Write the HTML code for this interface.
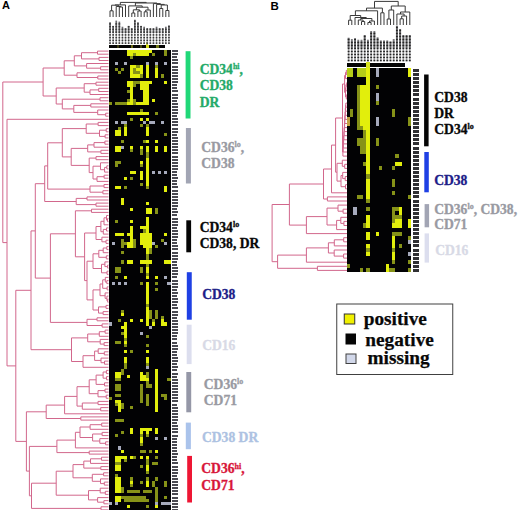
<!DOCTYPE html>
<html><head><meta charset="utf-8"><style>
html,body{margin:0;padding:0;background:#fff;width:520px;height:510px;overflow:hidden}
svg{display:block}
text{font-family:"Liberation Serif",serif;font-weight:bold}
text.pl{font-family:"Liberation Sans",sans-serif}
</style></head><body>
<svg width="520" height="510" viewBox="0 0 520 510" shape-rendering="crispEdges">
<rect width="520" height="510" fill="#fff"/>
<g fill="none" shape-rendering="auto">
<path d="M97.5 51.1L108.5 51.1M97.5 54.2L108.5 54.2M97.5 51.1L97.5 54.2M81.5 52.7L97.5 52.7M99.0 57.4L108.5 57.4M99.0 60.5L108.5 60.5M99.0 57.4L99.0 60.5M81.5 58.9L99.0 58.9M81.5 52.7L81.5 58.9M74.3 55.8L81.5 55.8M86.6 63.5L108.5 63.5M100.6 66.7L108.5 66.7M100.6 69.8L108.5 69.8M100.6 66.7L100.6 69.8M86.6 68.2L100.6 68.2M86.6 63.5L86.6 68.2M74.3 65.9L86.6 65.9M74.3 55.8L74.3 65.9M64.2 60.8L74.3 60.8M77.0 72.8L108.5 72.8M97.8 76.0L108.5 76.0M97.8 79.0L108.5 79.0M97.8 76.0L97.8 79.0M77.0 77.5L97.8 77.5M77.0 72.8L77.0 77.5M64.2 75.2L77.0 75.2M64.2 60.8L64.2 75.2M43.1 68.0L64.2 68.0M96.0 82.2L108.5 82.2M96.0 85.2L108.5 85.2M96.0 82.2L96.0 85.2M84.2 83.7L96.0 83.7M98.7 88.3L108.5 88.3M98.7 91.5L108.5 91.5M98.7 88.3L98.7 91.5M90.0 89.9L98.7 89.9M90.0 94.5L108.5 94.5M90.0 89.9L90.0 94.5M84.2 92.2L90.0 92.2M84.2 83.7L84.2 92.2M56.2 88.0L84.2 88.0M100.0 97.7L108.5 97.7M100.0 100.8L108.5 100.8M100.0 97.7L100.0 100.8M62.3 99.2L100.0 99.2M90.8 103.8L108.5 103.8M90.8 107.0L108.5 107.0M90.8 103.8L90.8 107.0M73.8 105.4L90.8 105.4M97.7 110.0L108.5 110.0M105.7 113.2L108.5 113.2M105.7 116.2L108.5 116.2M105.7 113.2L105.7 116.2M97.7 114.7L105.7 114.7M97.7 110.0L97.7 114.7M73.8 112.4L97.7 112.4M73.8 105.4L73.8 112.4M62.3 108.9L73.8 108.9M62.3 99.2L62.3 108.9M56.2 104.0L62.3 104.0M56.2 88.0L56.2 104.0M43.1 96.0L56.2 96.0M43.1 68.0L43.1 96.0M2.8 82.0L43.1 82.0M7.0 119.3L108.5 119.3M98.1 122.4L108.5 122.4M98.1 125.6L108.5 125.6M98.1 122.4L98.1 125.6M86.2 124.0L98.1 124.0M106.2 128.7L108.5 128.7M106.2 131.8L108.5 131.8M106.2 128.7L106.2 131.8M99.5 130.2L106.2 130.2M105.1 134.8L108.5 134.8M105.1 137.9L108.5 137.9M105.1 134.8L105.1 137.9M99.5 136.4L105.1 136.4M99.5 130.2L99.5 136.4M86.2 133.3L99.5 133.3M86.2 124.0L86.2 133.3M62.3 128.6L86.2 128.6M104.9 141.1L108.5 141.1M104.9 144.2L108.5 144.2M104.9 141.1L104.9 144.2M94.0 142.6L104.9 142.6M94.0 147.2L108.5 147.2M94.0 142.6L94.0 147.2M87.7 144.9L94.0 144.9M100.9 150.3L108.5 150.3M100.9 153.4L108.5 153.4M100.9 150.3L100.9 153.4M87.7 151.9L100.9 151.9M87.7 144.9L87.7 151.9M71.2 148.4L87.7 148.4M96.0 156.6L108.5 156.6M96.0 159.7L108.5 159.7M96.0 156.6L96.0 159.7M89.2 158.1L96.0 158.1M100.5 162.8L108.5 162.8M106.8 165.8L108.5 165.8M106.8 168.9L108.5 168.9M106.8 165.8L106.8 168.9M104.6 167.4L106.8 167.4M104.6 172.1L108.5 172.1M104.6 167.4L104.6 172.1M100.5 169.7L104.6 169.7M100.5 162.8L100.5 169.7M93.0 166.2L100.5 166.2M104.1 175.2L108.5 175.2M104.1 178.2L108.5 178.2M104.1 175.2L104.1 178.2M97.0 176.7L104.1 176.7M97.0 181.4L108.5 181.4M97.0 176.7L97.0 181.4M93.0 179.0L97.0 179.0M93.0 166.2L93.0 179.0M89.2 172.6L93.0 172.6M89.2 158.1L89.2 172.6M71.2 165.4L89.2 165.4M71.2 148.4L71.2 165.4M62.3 156.9L71.2 156.9M62.3 128.6L62.3 156.9M47.7 142.8L62.3 142.8M104.0 184.5L108.5 184.5M104.0 187.6L108.5 187.6M104.0 184.5L104.0 187.6M90.0 186.0L104.0 186.0M102.9 190.7L108.5 190.7M102.9 193.8L108.5 193.8M102.9 190.7L102.9 193.8M90.0 192.2L102.9 192.2M90.0 186.0L90.0 192.2M47.7 189.1L90.0 189.1M47.7 142.8L47.7 189.1M44.7 165.9L47.7 165.9M87.0 196.9L108.5 196.9M87.0 200.0L108.5 200.0M87.0 196.9L87.0 200.0M76.2 198.4L87.0 198.4M96.0 203.1L108.5 203.1M96.0 206.2L108.5 206.2M96.0 203.1L96.0 206.2M76.2 204.6L96.0 204.6M76.2 198.4L76.2 204.6M44.7 201.5L76.2 201.5M44.7 165.9L44.7 201.5M35.3 183.7L44.7 183.7M91.5 209.2L108.5 209.2M91.5 212.4L108.5 212.4M91.5 209.2L91.5 212.4M75.4 210.8L91.5 210.8M106.5 215.5L108.5 215.5M107.5 218.6L108.5 218.6M107.5 221.7L108.5 221.7M107.5 218.6L107.5 221.7M106.5 220.1L107.5 220.1M106.5 215.5L106.5 220.1M104.0 217.8L106.5 217.8M104.0 224.8L108.5 224.8M104.0 217.8L104.0 224.8M100.9 221.3L104.0 221.3M106.5 227.9L108.5 227.9M106.5 231.0L108.5 231.0M106.5 227.9L106.5 231.0M103.3 229.4L106.5 229.4M103.3 234.1L108.5 234.1M103.3 229.4L103.3 234.1M100.9 231.7L103.3 231.7M100.9 221.3L100.9 231.7M96.0 226.5L100.9 226.5M101.9 237.2L108.5 237.2M106.0 240.2L108.5 240.2M106.0 243.4L108.5 243.4M106.0 240.2L106.0 243.4M101.9 241.8L106.0 241.8M101.9 237.2L101.9 241.8M96.0 239.5L101.9 239.5M96.0 226.5L96.0 239.5M84.6 233.0L96.0 233.0M106.8 246.5L108.5 246.5M106.8 249.6L108.5 249.6M106.8 246.5L106.8 249.6M103.2 248.0L106.8 248.0M103.2 252.7L108.5 252.7M103.2 248.0L103.2 252.7M98.8 250.3L103.2 250.3M106.3 255.8L108.5 255.8M106.3 258.9L108.5 258.9M106.3 255.8L106.3 258.9M98.8 257.3L106.3 257.3M98.8 250.3L98.8 257.3M93.0 253.8L98.8 253.8M104.9 261.9L108.5 261.9M107.6 265.1L108.5 265.1M107.6 268.1L108.5 268.1M107.6 265.1L107.6 268.1M104.9 266.6L107.6 266.6M104.9 261.9L104.9 266.6M101.5 264.3L104.9 264.3M107.0 271.2L108.5 271.2M107.0 274.4L108.5 274.4M107.0 271.2L107.0 274.4M101.5 272.8L107.0 272.8M101.5 264.3L101.5 272.8M93.0 268.5L101.5 268.5M93.0 253.8L93.0 268.5M87.0 261.2L93.0 261.2M105.3 277.4L108.5 277.4M106.8 280.6L108.5 280.6M106.8 283.6L108.5 283.6M106.8 280.6L106.8 283.6M105.3 282.1L106.8 282.1M105.3 277.4L105.3 282.1M102.7 279.8L105.3 279.8M107.1 286.8L108.5 286.8M107.1 289.9L108.5 289.9M107.1 286.8L107.1 289.9M102.7 288.3L107.1 288.3M102.7 279.8L102.7 288.3M100.0 284.0L102.7 284.0M105.1 292.9L108.5 292.9M106.9 296.1L108.5 296.1M107.7 299.1L108.5 299.1M107.7 302.2L108.5 302.2M107.7 299.1L107.7 302.2M106.9 300.7L107.7 300.7M106.9 296.1L106.9 300.7M105.1 298.4L106.9 298.4M105.1 292.9L105.1 298.4M100.0 295.7L105.1 295.7M100.0 284.0L100.0 295.7M93.0 289.9L100.0 289.9M106.0 305.4L108.5 305.4M106.0 308.4L108.5 308.4M106.0 305.4L106.0 308.4M98.5 306.9L106.0 306.9M103.1 311.6L108.5 311.6M103.1 314.6L108.5 314.6M103.1 311.6L103.1 314.6M98.5 313.1L103.1 313.1M98.5 306.9L98.5 313.1M93.0 310.0L98.5 310.0M93.0 289.9L93.0 310.0M87.0 299.9L93.0 299.9M87.0 261.2L87.0 299.9M84.6 280.6L87.0 280.6M84.6 233.0L84.6 280.6M75.4 256.8L84.6 256.8M75.4 210.8L75.4 256.8M50.4 233.8L75.4 233.8M97.0 317.8L108.5 317.8M97.0 320.8L108.5 320.8M97.0 317.8L97.0 320.8M87.0 319.3L97.0 319.3M102.1 323.9L108.5 323.9M102.1 327.1L108.5 327.1M102.1 323.9L102.1 327.1M87.0 325.5L102.1 325.5M87.0 319.3L87.0 325.5M50.4 322.4L87.0 322.4M50.4 233.8L50.4 322.4M35.3 278.1L50.4 278.1M35.3 183.7L35.3 278.1M31.0 230.9L35.3 230.9M105.1 330.1L108.5 330.1M105.1 333.2L108.5 333.2M105.1 330.1L105.1 333.2M99.3 331.7L105.1 331.7M99.3 336.3L108.5 336.3M99.3 331.7L99.3 336.3M87.7 334.0L99.3 334.0M100.2 339.4L108.5 339.4M104.1 342.6L108.5 342.6M104.1 345.6L108.5 345.6M104.1 342.6L104.1 345.6M100.2 344.1L104.1 344.1M100.2 339.4L100.2 344.1M87.7 341.8L100.2 341.8M87.7 334.0L87.7 341.8M71.5 337.9L87.7 337.9M98.2 348.8L108.5 348.8M104.3 351.8L108.5 351.8M104.3 354.9L108.5 354.9M104.3 351.8L104.3 354.9M98.2 353.4L104.3 353.4M98.2 348.8L98.2 353.4M94.6 351.1L98.2 351.1M101.0 358.1L108.5 358.1M104.5 361.1L108.5 361.1M104.5 364.2L108.5 364.2M104.5 361.1L104.5 364.2M101.0 362.7L104.5 362.7M101.0 358.1L101.0 362.7M94.6 360.4L101.0 360.4M94.6 351.1L94.6 360.4M83.0 355.7L94.6 355.7M83.0 367.3L108.5 367.3M83.0 355.7L83.0 367.3M71.5 361.5L83.0 361.5M71.5 337.9L71.5 361.5M31.0 349.7L71.5 349.7M31.0 230.9L31.0 349.7M15.8 290.3L31.0 290.3M106.4 370.4L108.5 370.4M106.4 373.6L108.5 373.6M106.4 370.4L106.4 373.6M103.1 372.0L106.4 372.0M106.5 376.6L108.5 376.6M106.5 379.8L108.5 379.8M106.5 376.6L106.5 379.8M103.1 378.2L106.5 378.2M103.1 372.0L103.1 378.2M96.1 375.1L103.1 375.1M104.5 382.8L108.5 382.8M104.5 385.9L108.5 385.9M104.5 382.8L104.5 385.9M96.1 384.4L104.5 384.4M96.1 375.1L96.1 384.4M89.2 379.8L96.1 379.8M105.0 389.1L108.5 389.1M105.0 392.1L108.5 392.1M105.0 389.1L105.0 392.1M98.0 390.6L105.0 390.6M106.2 395.2L108.5 395.2M106.2 398.3L108.5 398.3M106.2 395.2L106.2 398.3M98.0 396.8L106.2 396.8M98.0 390.6L98.0 396.8M89.2 393.7L98.0 393.7M89.2 379.8L89.2 393.7M77.0 386.7L89.2 386.7M98.0 401.4L108.5 401.4M98.0 404.6L108.5 404.6M98.0 401.4L98.0 404.6M82.3 403.0L98.0 403.0M100.7 407.6L108.5 407.6M100.7 410.8L108.5 410.8M100.7 407.6L100.7 410.8M82.3 409.2L100.7 409.2M82.3 403.0L82.3 409.2M77.0 406.1L82.3 406.1M77.0 386.7L77.0 406.1M64.6 396.4L77.0 396.4M64.6 413.8L108.5 413.8M64.6 396.4L64.6 413.8M46.2 405.1L64.6 405.1M80.8 416.9L108.5 416.9M80.8 420.1L108.5 420.1M80.8 416.9L80.8 420.1M46.2 418.5L80.8 418.5M46.2 405.1L46.2 418.5M26.4 411.8L46.2 411.8M101.7 423.1L108.5 423.1M101.7 426.2L108.5 426.2M101.7 423.1L101.7 426.2M90.1 424.7L101.7 424.7M90.1 429.3L108.5 429.3M90.1 424.7L90.1 429.3M80.0 427.0L90.1 427.0M102.1 432.4L108.5 432.4M102.1 435.6L108.5 435.6M102.1 432.4L102.1 435.6M92.6 434.0L102.1 434.0M99.8 438.6L108.5 438.6M105.6 441.8L108.5 441.8M105.6 444.8L108.5 444.8M105.6 441.8L105.6 444.8M99.8 443.3L105.6 443.3M99.8 438.6L99.8 443.3M92.6 441.0L99.8 441.0M92.6 434.0L92.6 441.0M80.0 437.5L92.6 437.5M80.0 427.0L80.0 437.5M75.4 432.3L80.0 432.3M75.4 447.9L108.5 447.9M75.4 432.3L75.4 447.9M56.9 440.1L75.4 440.1M89.2 451.1L108.5 451.1M89.2 454.1L108.5 454.1M89.2 451.1L89.2 454.1M56.9 452.6L89.2 452.6M56.9 440.1L56.9 452.6M29.4 446.4L56.9 446.4M101.5 457.2L108.5 457.2M101.5 460.3L108.5 460.3M101.5 457.2L101.5 460.3M90.5 458.8L101.5 458.8M90.5 463.4L108.5 463.4M90.5 458.8L90.5 463.4M83.8 461.1L90.5 461.1M100.8 466.6L108.5 466.6M100.8 469.6L108.5 469.6M100.8 466.6L100.8 469.6M83.8 468.1L100.8 468.1M83.8 461.1L83.8 468.1M73.0 464.6L83.8 464.6M103.6 472.8L108.5 472.8M103.6 475.8L108.5 475.8M103.6 472.8L103.6 475.8M92.3 474.3L103.6 474.3M100.5 478.9L108.5 478.9M104.3 482.1L108.5 482.1M104.3 485.1L108.5 485.1M104.3 482.1L104.3 485.1M100.5 483.6L104.3 483.6M100.5 478.9L100.5 483.6M92.3 481.3L100.5 481.3M92.3 474.3L92.3 481.3M73.0 477.8L92.3 477.8M73.0 464.6L73.0 477.8M56.2 471.2L73.0 471.2M100.2 488.2L108.5 488.2M105.3 491.3L108.5 491.3M105.3 494.4L108.5 494.4M105.3 491.3L105.3 494.4M100.2 492.9L105.3 492.9M100.2 488.2L100.2 492.9M88.5 490.6L100.2 490.6M97.6 497.6L108.5 497.6M103.9 500.6L108.5 500.6M103.9 503.8L108.5 503.8M103.9 500.6L103.9 503.8M97.6 502.2L103.9 502.2M97.6 497.6L97.6 502.2M88.5 499.9L97.6 499.9M88.5 490.6L88.5 499.9M56.2 495.2L88.5 495.2M56.2 471.2L56.2 495.2M31.5 483.2L56.2 483.2M101.0 506.8L108.5 506.8M101.0 509.9L108.5 509.9M101.0 506.8L101.0 509.9M31.5 508.4L101.0 508.4M31.5 483.2L31.5 508.4M29.4 495.8L31.5 495.8M29.4 446.4L29.4 495.8M26.4 471.1L29.4 471.1M26.4 411.8L26.4 471.1M15.8 441.4L26.4 441.4M15.8 290.3L15.8 441.4M7.0 365.9L15.8 365.9M7.0 119.3L7.0 365.9M2.8 242.6L7.0 242.6M2.8 82.0L2.8 242.6" stroke="#d2678c" stroke-width="1.0"/>
<path d="M346.3 70.4L347.0 70.4M346.3 74.5L347.0 74.5M346.3 70.4L346.3 74.5M345.5 72.5L346.3 72.5M345.5 78.6L347.0 78.6M345.5 72.5L345.5 78.6M344.6 75.5L345.5 75.5M346.7 82.7L347.0 82.7M346.7 86.8L347.0 86.8M346.7 82.7L346.7 86.8M345.9 84.7L346.7 84.7M345.9 90.8L347.0 90.8M345.9 84.7L345.9 90.8M345.5 87.8L345.9 87.8M346.3 94.9L347.0 94.9M346.3 99.0L347.0 99.0M346.3 94.9L346.3 99.0M345.5 97.0L346.3 97.0M345.5 87.8L345.5 97.0M344.6 92.4L345.5 92.4M344.6 75.5L344.6 92.4M342.5 84.0L344.6 84.0M345.8 103.1L347.0 103.1M345.8 107.2L347.0 107.2M345.8 103.1L345.8 107.2M345.6 105.1L345.8 105.1M345.6 111.2L347.0 111.2M345.6 105.1L345.6 111.2M345.3 108.2L345.6 108.2M345.3 115.3L347.0 115.3M345.3 108.2L345.3 115.3M345.1 111.8L345.3 111.8M345.1 119.4L347.0 119.4M345.1 111.8L345.1 119.4M344.8 115.6L345.1 115.6M344.8 123.5L347.0 123.5M344.8 115.6L344.8 123.5M344.6 119.5L344.8 119.5M344.6 127.6L347.0 127.6M344.6 119.5L344.6 127.6M344.4 123.5L344.6 123.5M344.4 131.6L347.0 131.6M344.4 123.5L344.4 131.6M344.1 127.6L344.4 127.6M344.1 135.7L347.0 135.7M344.1 127.6L344.1 135.7M343.9 131.7L344.1 131.7M343.9 139.8L347.0 139.8M343.9 131.7L343.9 139.8M343.6 135.7L343.9 135.7M343.6 143.9L347.0 143.9M343.6 135.7L343.6 143.9M343.4 139.8L343.6 139.8M343.4 148.0L347.0 148.0M343.4 139.8L343.4 148.0M343.1 143.9L343.4 143.9M343.1 152.0L347.0 152.0M343.1 143.9L343.1 152.0M342.9 148.0L343.1 148.0M342.9 156.1L347.0 156.1M342.9 148.0L342.9 156.1M342.5 152.0L342.9 152.0M342.5 84.0L342.5 152.0M335.6 118.0L342.5 118.0M342.3 160.2L347.0 160.2M344.7 164.3L347.0 164.3M344.7 168.4L347.0 168.4M344.7 164.3L344.7 168.4M342.3 166.3L344.7 166.3M342.3 160.2L342.3 166.3M337.0 163.3L342.3 163.3M342.7 172.4L347.0 172.4M345.2 176.5L347.0 176.5M345.2 180.6L347.0 180.6M345.2 176.5L345.2 180.6M342.7 178.6L345.2 178.6M342.7 172.4L342.7 178.6M341.0 175.5L342.7 175.5M345.5 184.7L347.0 184.7M345.5 188.8L347.0 188.8M345.5 184.7L345.5 188.8M341.0 186.7L345.5 186.7M341.0 175.5L341.0 186.7M337.0 181.1L341.0 181.1M337.0 163.3L337.0 181.1M335.6 172.2L337.0 172.2M335.6 118.0L335.6 172.2M331.5 145.1L335.6 145.1M331.5 192.8L347.0 192.8M331.5 145.1L331.5 192.8M323.5 169.0L331.5 169.0M327.4 196.9L347.0 196.9M327.4 201.0L347.0 201.0M327.4 196.9L327.4 201.0M323.5 199.0L327.4 199.0M323.5 169.0L323.5 199.0M289.4 184.0L323.5 184.0M338.0 205.1L347.0 205.1M343.1 209.2L347.0 209.2M343.1 213.2L347.0 213.2M343.1 209.2L343.1 213.2M338.0 211.2L343.1 211.2M338.0 205.1L338.0 211.2M327.0 208.1L338.0 208.1M340.8 217.3L347.0 217.3M343.9 221.4L347.0 221.4M343.9 225.5L347.0 225.5M343.9 221.4L343.9 225.5M340.8 223.4L343.9 223.4M340.8 217.3L340.8 223.4M336.6 220.4L340.8 220.4M336.6 229.6L347.0 229.6M336.6 220.4L336.6 229.6M327.0 225.0L336.6 225.0M327.0 208.1L327.0 225.0M306.4 216.6L327.0 216.6M306.4 233.6L347.0 233.6M306.4 216.6L306.4 233.6M289.4 225.1L306.4 225.1M289.4 184.0L289.4 225.1M272.1 204.5L289.4 204.5M343.7 237.7L347.0 237.7M343.7 241.8L347.0 241.8M343.7 237.7L343.7 241.8M334.3 239.8L343.7 239.8M334.3 245.9L347.0 245.9M334.3 239.8L334.3 245.9M328.4 242.8L334.3 242.8M334.2 250.0L347.0 250.0M343.6 254.0L347.0 254.0M343.6 258.1L347.0 258.1M343.6 254.0L343.6 258.1M334.2 256.1L343.6 256.1M334.2 250.0L334.2 256.1M328.4 253.0L334.2 253.0M328.4 242.8L328.4 253.0M306.4 247.9L328.4 247.9M306.4 262.2L347.0 262.2M306.4 247.9L306.4 262.2M277.6 255.1L306.4 255.1M317.4 266.3L347.0 266.3M317.4 270.4L347.0 270.4M317.4 266.3L317.4 270.4M277.6 268.3L317.4 268.3M277.6 255.1L277.6 268.3M272.1 261.7L277.6 261.7M272.1 204.5L272.1 261.7" stroke="#d2678c" stroke-width="1.0"/>
<path d="M110.0 10.8L110.0 17.0M113.1 10.8L113.1 17.0M110.0 10.8L113.1 10.8M119.3 7.0L119.3 17.0M122.5 7.0L122.5 17.0M119.3 7.0L122.5 7.0M116.2 6.5L116.2 17.0M120.9 6.5L120.9 7.0M116.2 6.5L120.9 6.5M111.6 5.2L111.6 10.8M118.6 5.2L118.6 6.5M111.6 5.2L118.6 5.2M115.1 4.9L115.1 5.2M125.5 4.9L125.5 17.0M115.1 4.9L125.5 4.9M131.8 13.0L131.8 17.0M134.8 13.0L134.8 17.0M131.8 13.0L134.8 13.0M137.9 11.0L137.9 17.0M141.1 11.0L141.1 17.0M137.9 11.0L141.1 11.0M133.3 9.8L133.3 13.0M139.5 9.8L139.5 11.0M133.3 9.8L139.5 9.8M144.2 11.8L144.2 17.0M147.2 11.8L147.2 17.0M144.2 11.8L147.2 11.8M145.7 10.0L145.7 11.8M150.3 10.0L150.3 17.0M145.7 10.0L150.3 10.0M136.4 7.2L136.4 9.8M148.0 7.2L148.0 10.0M136.4 7.2L148.0 7.2M128.7 5.9L128.7 17.0M142.2 5.9L142.2 7.2M128.7 5.9L142.2 5.9M159.7 8.5L159.7 17.0M162.8 8.5L162.8 17.0M159.7 8.5L162.8 8.5M165.8 10.5L165.8 17.0M168.9 10.5L168.9 17.0M165.8 10.5L168.9 10.5M161.2 5.0L161.2 8.5M167.4 5.0L167.4 10.5M161.2 5.0L167.4 5.0M156.6 4.4L156.6 17.0M164.3 4.4L164.3 5.0M156.6 4.4L164.3 4.4M153.4 3.6L153.4 17.0M160.4 3.6L160.4 4.4M153.4 3.6L160.4 3.6M135.4 3.0L135.4 5.9M156.9 3.0L156.9 3.6M135.4 3.0L156.9 3.0M120.3 2.4L120.3 4.9M146.2 2.4L146.2 3.0M120.3 2.4L146.2 2.4" stroke="#3a3a3a" stroke-width="1.0"/>
<path d="M348.6 20.2L348.6 25.0M351.8 20.2L351.8 25.0M348.6 20.2L351.8 20.2M361.5 21.5L361.5 25.0M364.7 21.5L364.7 25.0M361.5 21.5L364.7 21.5M358.3 20.0L358.3 25.0M363.1 20.0L363.1 21.5M358.3 20.0L363.1 20.0M367.9 22.5L367.9 25.0M371.1 22.5L371.1 25.0M367.9 22.5L371.1 22.5M369.5 21.0L369.5 22.5M374.4 21.0L374.4 25.0M369.5 21.0L374.4 21.0M360.7 18.5L360.7 20.0M371.9 18.5L371.9 21.0M360.7 18.5L371.9 18.5M355.0 17.5L355.0 25.0M366.3 17.5L366.3 18.5M355.0 17.5L366.3 17.5M350.2 15.5L350.2 20.2M360.7 15.5L360.7 17.5M350.2 15.5L360.7 15.5M355.4 10.8L355.4 15.5M377.6 10.8L377.6 25.0M355.4 10.8L377.6 10.8M380.8 12.8L380.8 25.0M384.0 12.8L384.0 25.0M380.8 12.8L384.0 12.8M366.5 8.1L366.5 10.8M382.4 8.1L382.4 12.8M366.5 8.1L382.4 8.1M387.2 19.0L387.2 25.0M390.5 19.0L390.5 25.0M387.2 19.0L390.5 19.0M388.9 10.0L388.9 19.0M393.7 10.0L393.7 25.0M388.9 10.0L393.7 10.0M400.1 18.8L400.1 25.0M403.3 18.8L403.3 25.0M400.1 18.8L403.3 18.8M401.7 16.0L401.7 18.8M406.6 16.0L406.6 25.0M401.7 16.0L406.6 16.0M396.9 14.0L396.9 25.0M404.1 14.0L404.1 16.0M396.9 14.0L404.1 14.0M400.5 12.0L400.5 14.0M409.8 12.0L409.8 25.0M400.5 12.0L409.8 12.0M391.3 6.0L391.3 10.0M405.2 6.0L405.2 12.0M391.3 6.0L405.2 6.0M374.5 1.4L374.5 8.1M398.2 1.4L398.2 6.0M374.5 1.4L398.2 1.4" stroke="#3a3a3a" stroke-width="1.0"/>
</g>
<rect x="108.50" y="49.60" width="62.00" height="460.40" fill="#020204"/>
<rect x="127.10" y="49.60" width="24.80" height="3.10" fill="#e2ee0c"/>
<rect x="164.30" y="49.60" width="3.10" height="3.10" fill="#869218"/>
<rect x="127.10" y="52.70" width="6.20" height="3.10" fill="#e2ee0c"/>
<rect x="133.30" y="52.70" width="3.10" height="3.10" fill="#869218"/>
<rect x="136.40" y="52.70" width="12.40" height="3.10" fill="#e2ee0c"/>
<rect x="151.90" y="52.70" width="3.10" height="3.10" fill="#869218"/>
<rect x="164.30" y="52.70" width="3.10" height="3.10" fill="#869218"/>
<rect x="130.20" y="55.80" width="3.10" height="3.10" fill="#869218"/>
<rect x="114.70" y="62.00" width="3.10" height="3.10" fill="#a6aabc"/>
<rect x="124.00" y="62.00" width="3.10" height="3.10" fill="#a6aabc"/>
<rect x="145.70" y="62.00" width="3.10" height="3.10" fill="#a6aabc"/>
<rect x="155.00" y="62.00" width="3.10" height="3.10" fill="#a6aabc"/>
<rect x="164.30" y="62.00" width="3.10" height="3.10" fill="#a6aabc"/>
<rect x="130.20" y="65.10" width="6.20" height="3.10" fill="#e2ee0c"/>
<rect x="136.40" y="65.10" width="3.10" height="3.10" fill="#869218"/>
<rect x="139.50" y="65.10" width="3.10" height="3.10" fill="#e2ee0c"/>
<rect x="145.70" y="65.10" width="3.10" height="3.10" fill="#e2ee0c"/>
<rect x="155.00" y="65.10" width="3.10" height="3.10" fill="#869218"/>
<rect x="114.70" y="68.20" width="3.10" height="3.10" fill="#869218"/>
<rect x="120.90" y="68.20" width="3.10" height="3.10" fill="#869218"/>
<rect x="130.20" y="68.20" width="3.10" height="3.10" fill="#e2ee0c"/>
<rect x="133.30" y="68.20" width="3.10" height="3.10" fill="#869218"/>
<rect x="136.40" y="68.20" width="6.20" height="3.10" fill="#e2ee0c"/>
<rect x="145.70" y="68.20" width="3.10" height="3.10" fill="#e2ee0c"/>
<rect x="155.00" y="68.20" width="3.10" height="3.10" fill="#e2ee0c"/>
<rect x="117.80" y="71.30" width="3.10" height="3.10" fill="#869218"/>
<rect x="130.20" y="71.30" width="3.10" height="3.10" fill="#e2ee0c"/>
<rect x="133.30" y="71.30" width="6.20" height="3.10" fill="#869218"/>
<rect x="139.50" y="71.30" width="3.10" height="3.10" fill="#e2ee0c"/>
<rect x="145.70" y="71.30" width="3.10" height="3.10" fill="#e2ee0c"/>
<rect x="155.00" y="71.30" width="3.10" height="3.10" fill="#e2ee0c"/>
<rect x="130.20" y="74.40" width="9.30" height="3.10" fill="#e2ee0c"/>
<rect x="139.50" y="74.40" width="3.10" height="3.10" fill="#869218"/>
<rect x="145.70" y="74.40" width="3.10" height="3.10" fill="#e2ee0c"/>
<rect x="155.00" y="74.40" width="3.10" height="3.10" fill="#e2ee0c"/>
<rect x="161.20" y="74.40" width="3.10" height="3.10" fill="#869218"/>
<rect x="127.10" y="80.60" width="6.20" height="3.10" fill="#e2ee0c"/>
<rect x="133.30" y="80.60" width="6.20" height="3.10" fill="#869218"/>
<rect x="139.50" y="80.60" width="12.40" height="3.10" fill="#e2ee0c"/>
<rect x="164.30" y="80.60" width="3.10" height="3.10" fill="#e2ee0c"/>
<rect x="127.10" y="83.70" width="6.20" height="3.10" fill="#e2ee0c"/>
<rect x="133.30" y="83.70" width="3.10" height="3.10" fill="#869218"/>
<rect x="139.50" y="83.70" width="9.30" height="3.10" fill="#e2ee0c"/>
<rect x="130.20" y="86.80" width="3.10" height="3.10" fill="#e2ee0c"/>
<rect x="139.50" y="86.80" width="9.30" height="3.10" fill="#e2ee0c"/>
<rect x="127.10" y="89.90" width="3.10" height="3.10" fill="#869218"/>
<rect x="130.20" y="89.90" width="3.10" height="3.10" fill="#e2ee0c"/>
<rect x="142.60" y="89.90" width="6.20" height="3.10" fill="#e2ee0c"/>
<rect x="130.20" y="93.00" width="3.10" height="3.10" fill="#e2ee0c"/>
<rect x="142.60" y="93.00" width="6.20" height="3.10" fill="#e2ee0c"/>
<rect x="130.20" y="96.10" width="3.10" height="3.10" fill="#e2ee0c"/>
<rect x="142.60" y="96.10" width="6.20" height="3.10" fill="#e2ee0c"/>
<rect x="127.10" y="99.20" width="3.10" height="3.10" fill="#869218"/>
<rect x="130.20" y="99.20" width="3.10" height="3.10" fill="#e2ee0c"/>
<rect x="133.30" y="99.20" width="3.10" height="3.10" fill="#869218"/>
<rect x="142.60" y="99.20" width="6.20" height="3.10" fill="#e2ee0c"/>
<rect x="151.90" y="99.20" width="3.10" height="3.10" fill="#e2ee0c"/>
<rect x="108.50" y="102.30" width="3.10" height="3.10" fill="#869218"/>
<rect x="114.70" y="102.30" width="12.40" height="3.10" fill="#869218"/>
<rect x="127.10" y="102.30" width="6.20" height="3.10" fill="#e2ee0c"/>
<rect x="133.30" y="102.30" width="3.10" height="3.10" fill="#869218"/>
<rect x="136.40" y="102.30" width="12.40" height="3.10" fill="#e2ee0c"/>
<rect x="139.50" y="108.50" width="3.10" height="3.10" fill="#869218"/>
<rect x="127.10" y="111.60" width="21.70" height="3.10" fill="#e2ee0c"/>
<rect x="155.00" y="111.60" width="3.10" height="3.10" fill="#869218"/>
<rect x="130.20" y="117.80" width="3.10" height="3.10" fill="#869218"/>
<rect x="139.50" y="117.80" width="3.10" height="3.10" fill="#e2ee0c"/>
<rect x="145.70" y="117.80" width="3.10" height="3.10" fill="#e2ee0c"/>
<rect x="114.70" y="120.90" width="3.10" height="3.10" fill="#a6aabc"/>
<rect x="120.90" y="120.90" width="6.20" height="3.10" fill="#a6aabc"/>
<rect x="142.60" y="120.90" width="3.10" height="3.10" fill="#a6aabc"/>
<rect x="148.80" y="120.90" width="6.20" height="3.10" fill="#a6aabc"/>
<rect x="161.20" y="120.90" width="3.10" height="3.10" fill="#a6aabc"/>
<rect x="124.00" y="124.00" width="3.10" height="3.10" fill="#869218"/>
<rect x="139.50" y="124.00" width="3.10" height="3.10" fill="#869218"/>
<rect x="145.70" y="124.00" width="3.10" height="3.10" fill="#869218"/>
<rect x="117.80" y="127.10" width="3.10" height="3.10" fill="#869218"/>
<rect x="124.00" y="127.10" width="3.10" height="3.10" fill="#e2ee0c"/>
<rect x="145.70" y="127.10" width="3.10" height="3.10" fill="#e2ee0c"/>
<rect x="114.70" y="130.20" width="6.20" height="3.10" fill="#e2ee0c"/>
<rect x="124.00" y="130.20" width="3.10" height="3.10" fill="#e2ee0c"/>
<rect x="145.70" y="130.20" width="3.10" height="3.10" fill="#e2ee0c"/>
<rect x="114.70" y="133.30" width="6.20" height="3.10" fill="#e2ee0c"/>
<rect x="124.00" y="133.30" width="3.10" height="3.10" fill="#e2ee0c"/>
<rect x="145.70" y="133.30" width="3.10" height="3.10" fill="#e2ee0c"/>
<rect x="164.30" y="133.30" width="3.10" height="3.10" fill="#869218"/>
<rect x="120.90" y="139.50" width="3.10" height="3.10" fill="#869218"/>
<rect x="142.60" y="139.50" width="3.10" height="3.10" fill="#869218"/>
<rect x="145.70" y="139.50" width="3.10" height="3.10" fill="#e2ee0c"/>
<rect x="155.00" y="139.50" width="3.10" height="3.10" fill="#e2ee0c"/>
<rect x="114.70" y="145.70" width="6.20" height="3.10" fill="#e2ee0c"/>
<rect x="120.90" y="145.70" width="3.10" height="3.10" fill="#a6aabc"/>
<rect x="130.20" y="145.70" width="3.10" height="3.10" fill="#e2ee0c"/>
<rect x="139.50" y="145.70" width="3.10" height="3.10" fill="#e2ee0c"/>
<rect x="145.70" y="145.70" width="3.10" height="3.10" fill="#e2ee0c"/>
<rect x="155.00" y="145.70" width="3.10" height="3.10" fill="#e2ee0c"/>
<rect x="164.30" y="145.70" width="3.10" height="3.10" fill="#e2ee0c"/>
<rect x="114.70" y="148.80" width="6.20" height="3.10" fill="#e2ee0c"/>
<rect x="130.20" y="148.80" width="3.10" height="3.10" fill="#869218"/>
<rect x="139.50" y="148.80" width="3.10" height="3.10" fill="#869218"/>
<rect x="145.70" y="148.80" width="3.10" height="3.10" fill="#e2ee0c"/>
<rect x="155.00" y="148.80" width="3.10" height="3.10" fill="#e2ee0c"/>
<rect x="164.30" y="148.80" width="3.10" height="3.10" fill="#e2ee0c"/>
<rect x="139.50" y="151.90" width="3.10" height="3.10" fill="#869218"/>
<rect x="145.70" y="151.90" width="3.10" height="3.10" fill="#869218"/>
<rect x="145.70" y="155.00" width="3.10" height="3.10" fill="#869218"/>
<rect x="145.70" y="158.10" width="3.10" height="3.10" fill="#e2ee0c"/>
<rect x="114.70" y="161.20" width="6.20" height="3.10" fill="#869218"/>
<rect x="139.50" y="161.20" width="3.10" height="3.10" fill="#e2ee0c"/>
<rect x="145.70" y="161.20" width="3.10" height="3.10" fill="#e2ee0c"/>
<rect x="114.70" y="164.30" width="3.10" height="3.10" fill="#869218"/>
<rect x="139.50" y="164.30" width="3.10" height="3.10" fill="#869218"/>
<rect x="145.70" y="164.30" width="3.10" height="3.10" fill="#e2ee0c"/>
<rect x="145.70" y="167.40" width="3.10" height="3.10" fill="#e2ee0c"/>
<rect x="130.20" y="170.50" width="6.20" height="3.10" fill="#e2ee0c"/>
<rect x="139.50" y="170.50" width="3.10" height="3.10" fill="#e2ee0c"/>
<rect x="145.70" y="170.50" width="3.10" height="3.10" fill="#e2ee0c"/>
<rect x="151.90" y="170.50" width="3.10" height="3.10" fill="#a6aabc"/>
<rect x="158.10" y="170.50" width="3.10" height="3.10" fill="#a6aabc"/>
<rect x="164.30" y="170.50" width="3.10" height="3.10" fill="#a6aabc"/>
<rect x="139.50" y="173.60" width="3.10" height="3.10" fill="#e2ee0c"/>
<rect x="145.70" y="173.60" width="3.10" height="3.10" fill="#e2ee0c"/>
<rect x="124.00" y="176.70" width="3.10" height="3.10" fill="#e2ee0c"/>
<rect x="130.20" y="176.70" width="3.10" height="3.10" fill="#869218"/>
<rect x="139.50" y="176.70" width="3.10" height="3.10" fill="#e2ee0c"/>
<rect x="145.70" y="176.70" width="3.10" height="3.10" fill="#e2ee0c"/>
<rect x="145.70" y="179.80" width="3.10" height="3.10" fill="#e2ee0c"/>
<rect x="139.50" y="182.90" width="3.10" height="3.10" fill="#869218"/>
<rect x="145.70" y="182.90" width="3.10" height="3.10" fill="#e2ee0c"/>
<rect x="114.70" y="186.00" width="6.20" height="3.10" fill="#e2ee0c"/>
<rect x="124.00" y="186.00" width="3.10" height="3.10" fill="#869218"/>
<rect x="145.70" y="186.00" width="3.10" height="3.10" fill="#869218"/>
<rect x="164.30" y="186.00" width="3.10" height="3.10" fill="#e2ee0c"/>
<rect x="164.30" y="189.10" width="3.10" height="3.10" fill="#e2ee0c"/>
<rect x="120.90" y="198.40" width="3.10" height="3.10" fill="#e2ee0c"/>
<rect x="120.90" y="201.50" width="3.10" height="3.10" fill="#e2ee0c"/>
<rect x="145.70" y="201.50" width="3.10" height="3.10" fill="#e2ee0c"/>
<rect x="130.20" y="207.70" width="3.10" height="3.10" fill="#e2ee0c"/>
<rect x="145.70" y="207.70" width="6.20" height="3.10" fill="#e2ee0c"/>
<rect x="155.00" y="207.70" width="3.10" height="3.10" fill="#869218"/>
<rect x="145.70" y="210.80" width="6.20" height="3.10" fill="#e2ee0c"/>
<rect x="155.00" y="210.80" width="3.10" height="3.10" fill="#869218"/>
<rect x="145.70" y="217.00" width="3.10" height="3.10" fill="#e2ee0c"/>
<rect x="114.70" y="220.10" width="3.10" height="3.10" fill="#869218"/>
<rect x="130.20" y="220.10" width="3.10" height="3.10" fill="#e2ee0c"/>
<rect x="145.70" y="220.10" width="3.10" height="3.10" fill="#e2ee0c"/>
<rect x="145.70" y="223.20" width="3.10" height="3.10" fill="#e2ee0c"/>
<rect x="130.20" y="226.30" width="3.10" height="3.10" fill="#e2ee0c"/>
<rect x="139.50" y="226.30" width="9.30" height="3.10" fill="#e2ee0c"/>
<rect x="130.20" y="229.40" width="3.10" height="3.10" fill="#e2ee0c"/>
<rect x="142.60" y="229.40" width="3.10" height="3.10" fill="#869218"/>
<rect x="145.70" y="229.40" width="3.10" height="3.10" fill="#e2ee0c"/>
<rect x="114.70" y="232.50" width="9.30" height="3.10" fill="#e2ee0c"/>
<rect x="127.10" y="232.50" width="6.20" height="3.10" fill="#e2ee0c"/>
<rect x="139.50" y="232.50" width="12.40" height="3.10" fill="#e2ee0c"/>
<rect x="164.30" y="232.50" width="3.10" height="3.10" fill="#e2ee0c"/>
<rect x="130.20" y="235.60" width="3.10" height="3.10" fill="#e2ee0c"/>
<rect x="139.50" y="235.60" width="12.40" height="3.10" fill="#e2ee0c"/>
<rect x="120.90" y="238.70" width="3.10" height="3.10" fill="#869218"/>
<rect x="130.20" y="238.70" width="3.10" height="3.10" fill="#e2ee0c"/>
<rect x="133.30" y="238.70" width="3.10" height="3.10" fill="#869218"/>
<rect x="139.50" y="238.70" width="12.40" height="3.10" fill="#e2ee0c"/>
<rect x="161.20" y="238.70" width="3.10" height="3.10" fill="#869218"/>
<rect x="111.60" y="241.80" width="3.10" height="3.10" fill="#a6aabc"/>
<rect x="120.90" y="241.80" width="6.20" height="3.10" fill="#869218"/>
<rect x="127.10" y="241.80" width="6.20" height="3.10" fill="#e2ee0c"/>
<rect x="133.30" y="241.80" width="3.10" height="3.10" fill="#869218"/>
<rect x="139.50" y="241.80" width="12.40" height="3.10" fill="#e2ee0c"/>
<rect x="151.90" y="241.80" width="3.10" height="3.10" fill="#a6aabc"/>
<rect x="164.30" y="241.80" width="3.10" height="3.10" fill="#a6aabc"/>
<rect x="120.90" y="244.90" width="3.10" height="3.10" fill="#869218"/>
<rect x="127.10" y="244.90" width="6.20" height="3.10" fill="#e2ee0c"/>
<rect x="133.30" y="244.90" width="3.10" height="3.10" fill="#869218"/>
<rect x="142.60" y="244.90" width="9.30" height="3.10" fill="#e2ee0c"/>
<rect x="155.00" y="244.90" width="3.10" height="3.10" fill="#869218"/>
<rect x="145.70" y="248.00" width="3.10" height="3.10" fill="#e2ee0c"/>
<rect x="148.80" y="248.00" width="3.10" height="3.10" fill="#869218"/>
<rect x="120.90" y="251.10" width="3.10" height="3.10" fill="#869218"/>
<rect x="145.70" y="251.10" width="3.10" height="3.10" fill="#e2ee0c"/>
<rect x="148.80" y="251.10" width="3.10" height="3.10" fill="#869218"/>
<rect x="145.70" y="254.20" width="3.10" height="3.10" fill="#869218"/>
<rect x="145.70" y="257.30" width="3.10" height="3.10" fill="#869218"/>
<rect x="120.90" y="260.40" width="3.10" height="3.10" fill="#869218"/>
<rect x="127.10" y="260.40" width="6.20" height="3.10" fill="#e2ee0c"/>
<rect x="139.50" y="260.40" width="12.40" height="3.10" fill="#e2ee0c"/>
<rect x="164.30" y="260.40" width="6.20" height="3.10" fill="#e2ee0c"/>
<rect x="145.70" y="263.50" width="3.10" height="3.10" fill="#869218"/>
<rect x="114.70" y="266.60" width="6.20" height="3.10" fill="#869218"/>
<rect x="139.50" y="266.60" width="3.10" height="3.10" fill="#869218"/>
<rect x="145.70" y="266.60" width="3.10" height="3.10" fill="#e2ee0c"/>
<rect x="114.70" y="269.70" width="6.20" height="3.10" fill="#869218"/>
<rect x="139.50" y="269.70" width="3.10" height="3.10" fill="#869218"/>
<rect x="145.70" y="269.70" width="3.10" height="3.10" fill="#e2ee0c"/>
<rect x="145.70" y="272.80" width="3.10" height="3.10" fill="#869218"/>
<rect x="114.70" y="275.90" width="3.10" height="3.10" fill="#869218"/>
<rect x="124.00" y="275.90" width="3.10" height="3.10" fill="#e2ee0c"/>
<rect x="145.70" y="275.90" width="3.10" height="3.10" fill="#e2ee0c"/>
<rect x="155.00" y="275.90" width="3.10" height="3.10" fill="#e2ee0c"/>
<rect x="164.30" y="275.90" width="3.10" height="3.10" fill="#a6aabc"/>
<rect x="111.60" y="282.10" width="3.10" height="3.10" fill="#a6aabc"/>
<rect x="117.80" y="282.10" width="3.10" height="3.10" fill="#a6aabc"/>
<rect x="124.00" y="282.10" width="3.10" height="3.10" fill="#a6aabc"/>
<rect x="139.50" y="282.10" width="3.10" height="3.10" fill="#869218"/>
<rect x="145.70" y="282.10" width="3.10" height="3.10" fill="#e2ee0c"/>
<rect x="155.00" y="282.10" width="3.10" height="3.10" fill="#869218"/>
<rect x="167.40" y="282.10" width="3.10" height="3.10" fill="#a6aabc"/>
<rect x="145.70" y="285.20" width="3.10" height="3.10" fill="#e2ee0c"/>
<rect x="145.70" y="288.30" width="3.10" height="3.10" fill="#e2ee0c"/>
<rect x="155.00" y="288.30" width="3.10" height="3.10" fill="#869218"/>
<rect x="145.70" y="291.40" width="3.10" height="3.10" fill="#e2ee0c"/>
<rect x="145.70" y="294.50" width="3.10" height="3.10" fill="#e2ee0c"/>
<rect x="145.70" y="297.60" width="3.10" height="3.10" fill="#e2ee0c"/>
<rect x="145.70" y="300.70" width="3.10" height="3.10" fill="#e2ee0c"/>
<rect x="145.70" y="303.80" width="3.10" height="3.10" fill="#869218"/>
<rect x="145.70" y="306.90" width="3.10" height="3.10" fill="#e2ee0c"/>
<rect x="120.90" y="310.00" width="3.10" height="3.10" fill="#869218"/>
<rect x="145.70" y="310.00" width="3.10" height="3.10" fill="#e2ee0c"/>
<rect x="148.80" y="310.00" width="3.10" height="3.10" fill="#869218"/>
<rect x="155.00" y="310.00" width="3.10" height="3.10" fill="#869218"/>
<rect x="120.90" y="313.10" width="3.10" height="3.10" fill="#e2ee0c"/>
<rect x="145.70" y="313.10" width="3.10" height="3.10" fill="#e2ee0c"/>
<rect x="148.80" y="313.10" width="3.10" height="3.10" fill="#869218"/>
<rect x="155.00" y="313.10" width="3.10" height="3.10" fill="#869218"/>
<rect x="145.70" y="316.20" width="3.10" height="3.10" fill="#e2ee0c"/>
<rect x="148.80" y="316.20" width="3.10" height="3.10" fill="#869218"/>
<rect x="155.00" y="316.20" width="3.10" height="3.10" fill="#869218"/>
<rect x="161.20" y="316.20" width="3.10" height="3.10" fill="#869218"/>
<rect x="117.80" y="319.30" width="3.10" height="3.10" fill="#869218"/>
<rect x="130.20" y="319.30" width="3.10" height="3.10" fill="#e2ee0c"/>
<rect x="139.50" y="319.30" width="3.10" height="3.10" fill="#e2ee0c"/>
<rect x="145.70" y="319.30" width="3.10" height="3.10" fill="#e2ee0c"/>
<rect x="151.90" y="319.30" width="3.10" height="3.10" fill="#869218"/>
<rect x="161.20" y="319.30" width="3.10" height="3.10" fill="#e2ee0c"/>
<rect x="108.50" y="322.40" width="3.10" height="3.10" fill="#a6aabc"/>
<rect x="124.00" y="322.40" width="3.10" height="3.10" fill="#e2ee0c"/>
<rect x="145.70" y="322.40" width="3.10" height="3.10" fill="#e2ee0c"/>
<rect x="151.90" y="322.40" width="3.10" height="3.10" fill="#e2ee0c"/>
<rect x="161.20" y="322.40" width="6.20" height="3.10" fill="#e2ee0c"/>
<rect x="120.90" y="325.50" width="6.20" height="3.10" fill="#e2ee0c"/>
<rect x="148.80" y="325.50" width="3.10" height="3.10" fill="#a6aabc"/>
<rect x="124.00" y="328.60" width="3.10" height="3.10" fill="#e2ee0c"/>
<rect x="120.90" y="331.70" width="3.10" height="3.10" fill="#869218"/>
<rect x="124.00" y="331.70" width="3.10" height="3.10" fill="#e2ee0c"/>
<rect x="139.50" y="331.70" width="3.10" height="3.10" fill="#a6aabc"/>
<rect x="124.00" y="334.80" width="3.10" height="3.10" fill="#e2ee0c"/>
<rect x="145.70" y="334.80" width="3.10" height="3.10" fill="#869218"/>
<rect x="124.00" y="337.90" width="3.10" height="3.10" fill="#869218"/>
<rect x="114.70" y="341.00" width="6.20" height="3.10" fill="#869218"/>
<rect x="124.00" y="341.00" width="3.10" height="3.10" fill="#e2ee0c"/>
<rect x="124.00" y="344.10" width="3.10" height="3.10" fill="#869218"/>
<rect x="145.70" y="344.10" width="3.10" height="3.10" fill="#869218"/>
<rect x="124.00" y="350.30" width="3.10" height="3.10" fill="#e2ee0c"/>
<rect x="130.20" y="350.30" width="3.10" height="3.10" fill="#869218"/>
<rect x="145.70" y="350.30" width="3.10" height="3.10" fill="#e2ee0c"/>
<rect x="124.00" y="356.50" width="3.10" height="3.10" fill="#e2ee0c"/>
<rect x="145.70" y="356.50" width="3.10" height="3.10" fill="#e2ee0c"/>
<rect x="124.00" y="359.60" width="3.10" height="3.10" fill="#e2ee0c"/>
<rect x="145.70" y="359.60" width="3.10" height="3.10" fill="#e2ee0c"/>
<rect x="124.00" y="362.70" width="3.10" height="3.10" fill="#869218"/>
<rect x="145.70" y="362.70" width="3.10" height="3.10" fill="#869218"/>
<rect x="124.00" y="365.80" width="3.10" height="3.10" fill="#869218"/>
<rect x="145.70" y="365.80" width="3.10" height="3.10" fill="#a6aabc"/>
<rect x="120.90" y="368.90" width="3.10" height="3.10" fill="#869218"/>
<rect x="155.00" y="368.90" width="3.10" height="3.10" fill="#e2ee0c"/>
<rect x="114.70" y="372.00" width="6.20" height="3.10" fill="#e2ee0c"/>
<rect x="120.90" y="372.00" width="3.10" height="3.10" fill="#869218"/>
<rect x="139.50" y="372.00" width="3.10" height="3.10" fill="#e2ee0c"/>
<rect x="145.70" y="372.00" width="3.10" height="3.10" fill="#869218"/>
<rect x="155.00" y="372.00" width="3.10" height="3.10" fill="#e2ee0c"/>
<rect x="114.70" y="375.10" width="6.20" height="3.10" fill="#e2ee0c"/>
<rect x="127.10" y="375.10" width="3.10" height="3.10" fill="#e2ee0c"/>
<rect x="139.50" y="375.10" width="6.20" height="3.10" fill="#e2ee0c"/>
<rect x="145.70" y="375.10" width="3.10" height="3.10" fill="#869218"/>
<rect x="155.00" y="375.10" width="3.10" height="3.10" fill="#e2ee0c"/>
<rect x="114.70" y="378.20" width="6.20" height="3.10" fill="#869218"/>
<rect x="139.50" y="378.20" width="9.30" height="3.10" fill="#e2ee0c"/>
<rect x="155.00" y="378.20" width="3.10" height="3.10" fill="#e2ee0c"/>
<rect x="167.40" y="378.20" width="3.10" height="3.10" fill="#869218"/>
<rect x="145.70" y="381.30" width="3.10" height="3.10" fill="#869218"/>
<rect x="155.00" y="381.30" width="3.10" height="3.10" fill="#e2ee0c"/>
<rect x="114.70" y="384.40" width="6.20" height="3.10" fill="#869218"/>
<rect x="139.50" y="384.40" width="3.10" height="3.10" fill="#869218"/>
<rect x="145.70" y="384.40" width="6.20" height="3.10" fill="#869218"/>
<rect x="155.00" y="384.40" width="3.10" height="3.10" fill="#e2ee0c"/>
<rect x="114.70" y="387.50" width="6.20" height="3.10" fill="#869218"/>
<rect x="139.50" y="387.50" width="3.10" height="3.10" fill="#869218"/>
<rect x="155.00" y="387.50" width="3.10" height="3.10" fill="#e2ee0c"/>
<rect x="139.50" y="390.60" width="3.10" height="3.10" fill="#869218"/>
<rect x="155.00" y="390.60" width="3.10" height="3.10" fill="#e2ee0c"/>
<rect x="114.70" y="393.70" width="6.20" height="3.10" fill="#869218"/>
<rect x="139.50" y="393.70" width="3.10" height="3.10" fill="#869218"/>
<rect x="145.70" y="393.70" width="3.10" height="3.10" fill="#869218"/>
<rect x="155.00" y="393.70" width="3.10" height="3.10" fill="#e2ee0c"/>
<rect x="161.20" y="393.70" width="6.20" height="3.10" fill="#869218"/>
<rect x="108.50" y="396.80" width="3.10" height="3.10" fill="#869218"/>
<rect x="139.50" y="396.80" width="3.10" height="3.10" fill="#869218"/>
<rect x="145.70" y="396.80" width="3.10" height="3.10" fill="#869218"/>
<rect x="155.00" y="396.80" width="3.10" height="3.10" fill="#e2ee0c"/>
<rect x="164.30" y="396.80" width="3.10" height="3.10" fill="#869218"/>
<rect x="114.70" y="399.90" width="6.20" height="3.10" fill="#e2ee0c"/>
<rect x="139.50" y="399.90" width="3.10" height="3.10" fill="#869218"/>
<rect x="145.70" y="399.90" width="3.10" height="3.10" fill="#869218"/>
<rect x="155.00" y="399.90" width="3.10" height="3.10" fill="#e2ee0c"/>
<rect x="114.70" y="403.00" width="3.10" height="3.10" fill="#869218"/>
<rect x="117.80" y="403.00" width="3.10" height="3.10" fill="#e2ee0c"/>
<rect x="120.90" y="403.00" width="3.10" height="3.10" fill="#869218"/>
<rect x="145.70" y="403.00" width="3.10" height="3.10" fill="#869218"/>
<rect x="155.00" y="403.00" width="3.10" height="3.10" fill="#e2ee0c"/>
<rect x="117.80" y="406.10" width="3.10" height="3.10" fill="#e2ee0c"/>
<rect x="120.90" y="406.10" width="3.10" height="3.10" fill="#869218"/>
<rect x="130.20" y="406.10" width="3.10" height="3.10" fill="#869218"/>
<rect x="155.00" y="406.10" width="3.10" height="3.10" fill="#e2ee0c"/>
<rect x="117.80" y="409.20" width="3.10" height="3.10" fill="#e2ee0c"/>
<rect x="155.00" y="409.20" width="3.10" height="3.10" fill="#e2ee0c"/>
<rect x="114.70" y="418.50" width="9.30" height="3.10" fill="#869218"/>
<rect x="130.20" y="427.80" width="3.10" height="3.10" fill="#e2ee0c"/>
<rect x="139.50" y="427.80" width="12.40" height="3.10" fill="#e2ee0c"/>
<rect x="155.00" y="427.80" width="3.10" height="3.10" fill="#e2ee0c"/>
<rect x="120.90" y="430.90" width="3.10" height="3.10" fill="#869218"/>
<rect x="130.20" y="430.90" width="3.10" height="3.10" fill="#e2ee0c"/>
<rect x="139.50" y="430.90" width="3.10" height="3.10" fill="#e2ee0c"/>
<rect x="145.70" y="430.90" width="3.10" height="3.10" fill="#e2ee0c"/>
<rect x="155.00" y="430.90" width="3.10" height="3.10" fill="#e2ee0c"/>
<rect x="114.70" y="434.00" width="3.10" height="3.10" fill="#869218"/>
<rect x="139.50" y="434.00" width="3.10" height="3.10" fill="#869218"/>
<rect x="145.70" y="434.00" width="3.10" height="3.10" fill="#869218"/>
<rect x="139.50" y="437.10" width="3.10" height="3.10" fill="#e2ee0c"/>
<rect x="155.00" y="437.10" width="3.10" height="3.10" fill="#a6aabc"/>
<rect x="164.30" y="437.10" width="3.10" height="3.10" fill="#a6aabc"/>
<rect x="139.50" y="440.20" width="3.10" height="3.10" fill="#e2ee0c"/>
<rect x="139.50" y="443.30" width="3.10" height="3.10" fill="#869218"/>
<rect x="117.80" y="446.40" width="3.10" height="3.10" fill="#a6aabc"/>
<rect x="120.90" y="449.50" width="3.10" height="3.10" fill="#e2ee0c"/>
<rect x="139.50" y="449.50" width="6.20" height="3.10" fill="#869218"/>
<rect x="148.80" y="449.50" width="3.10" height="3.10" fill="#869218"/>
<rect x="155.00" y="449.50" width="3.10" height="3.10" fill="#e2ee0c"/>
<rect x="114.70" y="455.70" width="12.40" height="3.10" fill="#e2ee0c"/>
<rect x="130.20" y="455.70" width="3.10" height="3.10" fill="#e2ee0c"/>
<rect x="133.30" y="455.70" width="3.10" height="3.10" fill="#869218"/>
<rect x="139.50" y="455.70" width="3.10" height="3.10" fill="#e2ee0c"/>
<rect x="145.70" y="455.70" width="3.10" height="3.10" fill="#e2ee0c"/>
<rect x="155.00" y="455.70" width="3.10" height="3.10" fill="#869218"/>
<rect x="114.70" y="458.80" width="6.20" height="3.10" fill="#e2ee0c"/>
<rect x="124.00" y="458.80" width="3.10" height="3.10" fill="#869218"/>
<rect x="145.70" y="458.80" width="3.10" height="3.10" fill="#869218"/>
<rect x="114.70" y="461.90" width="6.20" height="3.10" fill="#869218"/>
<rect x="145.70" y="461.90" width="3.10" height="3.10" fill="#869218"/>
<rect x="151.90" y="461.90" width="6.20" height="3.10" fill="#869218"/>
<rect x="114.70" y="465.00" width="6.20" height="3.10" fill="#e2ee0c"/>
<rect x="139.50" y="465.00" width="3.10" height="3.10" fill="#869218"/>
<rect x="145.70" y="465.00" width="3.10" height="3.10" fill="#e2ee0c"/>
<rect x="114.70" y="468.10" width="6.20" height="3.10" fill="#e2ee0c"/>
<rect x="145.70" y="468.10" width="3.10" height="3.10" fill="#e2ee0c"/>
<rect x="145.70" y="471.20" width="3.10" height="3.10" fill="#869218"/>
<rect x="114.70" y="474.30" width="3.10" height="3.10" fill="#869218"/>
<rect x="114.70" y="477.40" width="6.20" height="3.10" fill="#e2ee0c"/>
<rect x="130.20" y="477.40" width="3.10" height="3.10" fill="#869218"/>
<rect x="145.70" y="477.40" width="3.10" height="3.10" fill="#869218"/>
<rect x="155.00" y="477.40" width="3.10" height="3.10" fill="#869218"/>
<rect x="114.70" y="480.50" width="6.20" height="3.10" fill="#e2ee0c"/>
<rect x="130.20" y="480.50" width="3.10" height="3.10" fill="#e2ee0c"/>
<rect x="139.50" y="480.50" width="3.10" height="3.10" fill="#869218"/>
<rect x="145.70" y="480.50" width="3.10" height="3.10" fill="#e2ee0c"/>
<rect x="151.90" y="480.50" width="3.10" height="3.10" fill="#869218"/>
<rect x="164.30" y="480.50" width="3.10" height="3.10" fill="#869218"/>
<rect x="114.70" y="483.60" width="6.20" height="3.10" fill="#e2ee0c"/>
<rect x="130.20" y="483.60" width="3.10" height="3.10" fill="#869218"/>
<rect x="145.70" y="483.60" width="3.10" height="3.10" fill="#e2ee0c"/>
<rect x="151.90" y="483.60" width="3.10" height="3.10" fill="#869218"/>
<rect x="164.30" y="483.60" width="3.10" height="3.10" fill="#869218"/>
<rect x="114.70" y="486.70" width="6.20" height="3.10" fill="#e2ee0c"/>
<rect x="120.90" y="486.70" width="3.10" height="3.10" fill="#869218"/>
<rect x="155.00" y="486.70" width="3.10" height="3.10" fill="#869218"/>
<rect x="114.70" y="489.80" width="6.20" height="3.10" fill="#e2ee0c"/>
<rect x="120.90" y="489.80" width="3.10" height="3.10" fill="#869218"/>
<rect x="127.10" y="489.80" width="12.40" height="3.10" fill="#869218"/>
<rect x="142.60" y="489.80" width="9.30" height="3.10" fill="#869218"/>
<rect x="155.00" y="489.80" width="3.10" height="3.10" fill="#869218"/>
<rect x="155.00" y="492.90" width="3.10" height="3.10" fill="#869218"/>
<rect x="114.70" y="496.00" width="6.20" height="3.10" fill="#e2ee0c"/>
<rect x="120.90" y="496.00" width="24.80" height="3.10" fill="#869218"/>
<rect x="155.00" y="496.00" width="3.10" height="3.10" fill="#869218"/>
<rect x="164.30" y="496.00" width="3.10" height="3.10" fill="#869218"/>
<rect x="114.70" y="499.10" width="6.20" height="3.10" fill="#e2ee0c"/>
<rect x="124.00" y="499.10" width="24.80" height="3.10" fill="#869218"/>
<rect x="155.00" y="499.10" width="3.10" height="3.10" fill="#869218"/>
<rect x="108.50" y="502.20" width="3.10" height="3.10" fill="#a6aabc"/>
<rect x="114.70" y="502.20" width="3.10" height="3.10" fill="#a6aabc"/>
<rect x="155.00" y="502.20" width="3.10" height="3.10" fill="#a6aabc"/>
<rect x="161.20" y="502.20" width="9.30" height="3.10" fill="#a6aabc"/>
<rect x="127.10" y="505.30" width="3.10" height="3.10" fill="#e2ee0c"/>
<rect x="145.70" y="505.30" width="3.10" height="3.10" fill="#869218"/>
<rect x="155.00" y="505.30" width="3.10" height="3.10" fill="#e2ee0c"/>
<rect x="108.50" y="44.60" width="56.50" height="3.30" fill="#050505"/>
<rect x="117.00" y="44.90" width="2.00" height="2.70" fill="#3a3a10"/>
<rect x="130.50" y="44.90" width="2.50" height="2.70" fill="#6a6a18"/>
<rect x="139.80" y="44.90" width="2.50" height="2.70" fill="#4a4a12"/>
<rect x="146.00" y="44.90" width="2.60" height="2.70" fill="#d8e020"/>
<rect x="156.00" y="44.90" width="2.50" height="2.70" fill="#707818"/>
<rect x="146.20" y="41.50" width="2.20" height="3.40" fill="#c8d040"/>
<rect x="172.00" y="50.00" width="6.00" height="2.00" fill="#4a4a52"/>
<rect x="172.00" y="53.00" width="6.00" height="2.00" fill="#4a4a52"/>
<rect x="172.00" y="56.00" width="5.00" height="2.00" fill="#4a4a52"/>
<rect x="172.00" y="59.00" width="6.00" height="2.00" fill="#4a4a52"/>
<rect x="172.00" y="62.00" width="6.00" height="2.00" fill="#4a4a52"/>
<rect x="172.00" y="66.00" width="6.00" height="2.00" fill="#4a4a52"/>
<rect x="172.00" y="69.00" width="6.00" height="2.00" fill="#4a4a52"/>
<rect x="172.00" y="72.00" width="6.00" height="2.00" fill="#4a4a52"/>
<rect x="172.00" y="75.00" width="6.00" height="2.00" fill="#4a4a52"/>
<rect x="172.00" y="78.00" width="6.00" height="2.00" fill="#4a4a52"/>
<rect x="172.00" y="81.00" width="6.00" height="2.00" fill="#4a4a52"/>
<rect x="172.00" y="84.00" width="5.00" height="2.00" fill="#4a4a52"/>
<rect x="172.00" y="87.00" width="5.00" height="2.00" fill="#4a4a52"/>
<rect x="172.00" y="90.00" width="6.00" height="2.00" fill="#4a4a52"/>
<rect x="172.00" y="94.00" width="6.00" height="2.00" fill="#4a4a52"/>
<rect x="172.00" y="97.00" width="6.00" height="2.00" fill="#4a4a52"/>
<rect x="172.00" y="100.00" width="5.00" height="2.00" fill="#4a4a52"/>
<rect x="172.00" y="103.00" width="6.00" height="2.00" fill="#4a4a52"/>
<rect x="172.00" y="106.00" width="6.00" height="2.00" fill="#4a4a52"/>
<rect x="172.00" y="109.00" width="6.00" height="2.00" fill="#4a4a52"/>
<rect x="172.00" y="112.00" width="6.00" height="2.00" fill="#4a4a52"/>
<rect x="172.00" y="115.00" width="5.00" height="2.00" fill="#4a4a52"/>
<rect x="172.00" y="118.00" width="6.00" height="2.00" fill="#4a4a52"/>
<rect x="172.00" y="121.00" width="6.00" height="2.00" fill="#4a4a52"/>
<rect x="172.00" y="124.00" width="6.00" height="2.00" fill="#4a4a52"/>
<rect x="172.00" y="128.00" width="6.00" height="2.00" fill="#4a4a52"/>
<rect x="172.00" y="131.00" width="6.00" height="2.00" fill="#4a4a52"/>
<rect x="172.00" y="134.00" width="5.00" height="2.00" fill="#4a4a52"/>
<rect x="172.00" y="137.00" width="6.00" height="2.00" fill="#4a4a52"/>
<rect x="172.00" y="140.00" width="6.00" height="2.00" fill="#4a4a52"/>
<rect x="172.00" y="143.00" width="6.00" height="2.00" fill="#4a4a52"/>
<rect x="172.00" y="146.00" width="6.00" height="2.00" fill="#4a4a52"/>
<rect x="172.00" y="149.00" width="6.00" height="2.00" fill="#4a4a52"/>
<rect x="172.00" y="152.00" width="6.00" height="2.00" fill="#4a4a52"/>
<rect x="172.00" y="156.00" width="6.00" height="2.00" fill="#4a4a52"/>
<rect x="172.00" y="159.00" width="6.00" height="2.00" fill="#4a4a52"/>
<rect x="172.00" y="162.00" width="6.00" height="2.00" fill="#4a4a52"/>
<rect x="172.00" y="165.00" width="6.00" height="2.00" fill="#4a4a52"/>
<rect x="172.00" y="168.00" width="6.00" height="2.00" fill="#4a4a52"/>
<rect x="172.00" y="171.00" width="5.00" height="2.00" fill="#4a4a52"/>
<rect x="172.00" y="174.00" width="5.00" height="2.00" fill="#4a4a52"/>
<rect x="172.00" y="177.00" width="6.00" height="2.00" fill="#4a4a52"/>
<rect x="172.00" y="180.00" width="5.00" height="2.00" fill="#4a4a52"/>
<rect x="172.00" y="183.00" width="5.00" height="2.00" fill="#4a4a52"/>
<rect x="172.00" y="186.00" width="6.00" height="2.00" fill="#4a4a52"/>
<rect x="172.00" y="190.00" width="6.00" height="2.00" fill="#4a4a52"/>
<rect x="172.00" y="193.00" width="6.00" height="2.00" fill="#4a4a52"/>
<rect x="172.00" y="196.00" width="6.00" height="2.00" fill="#4a4a52"/>
<rect x="172.00" y="199.00" width="6.00" height="2.00" fill="#4a4a52"/>
<rect x="172.00" y="202.00" width="6.00" height="2.00" fill="#4a4a52"/>
<rect x="172.00" y="205.00" width="6.00" height="2.00" fill="#4a4a52"/>
<rect x="172.00" y="208.00" width="5.00" height="2.00" fill="#4a4a52"/>
<rect x="172.00" y="211.00" width="6.00" height="2.00" fill="#4a4a52"/>
<rect x="172.00" y="214.00" width="5.00" height="2.00" fill="#4a4a52"/>
<rect x="172.00" y="218.00" width="6.00" height="2.00" fill="#4a4a52"/>
<rect x="172.00" y="221.00" width="6.00" height="2.00" fill="#4a4a52"/>
<rect x="172.00" y="224.00" width="6.00" height="2.00" fill="#4a4a52"/>
<rect x="172.00" y="227.00" width="5.00" height="2.00" fill="#4a4a52"/>
<rect x="172.00" y="230.00" width="6.00" height="2.00" fill="#4a4a52"/>
<rect x="172.00" y="233.00" width="6.00" height="2.00" fill="#4a4a52"/>
<rect x="172.00" y="236.00" width="6.00" height="2.00" fill="#4a4a52"/>
<rect x="172.00" y="239.00" width="5.00" height="2.00" fill="#4a4a52"/>
<rect x="172.00" y="242.00" width="5.00" height="2.00" fill="#4a4a52"/>
<rect x="172.00" y="245.00" width="6.00" height="2.00" fill="#4a4a52"/>
<rect x="172.00" y="248.00" width="6.00" height="2.00" fill="#4a4a52"/>
<rect x="172.00" y="252.00" width="6.00" height="2.00" fill="#4a4a52"/>
<rect x="172.00" y="255.00" width="6.00" height="2.00" fill="#4a4a52"/>
<rect x="172.00" y="258.00" width="6.00" height="2.00" fill="#4a4a52"/>
<rect x="172.00" y="261.00" width="5.00" height="2.00" fill="#4a4a52"/>
<rect x="172.00" y="264.00" width="5.00" height="2.00" fill="#4a4a52"/>
<rect x="172.00" y="267.00" width="6.00" height="2.00" fill="#4a4a52"/>
<rect x="172.00" y="270.00" width="6.00" height="2.00" fill="#4a4a52"/>
<rect x="172.00" y="273.00" width="6.00" height="2.00" fill="#4a4a52"/>
<rect x="172.00" y="276.00" width="5.00" height="2.00" fill="#4a4a52"/>
<rect x="172.00" y="280.00" width="6.00" height="2.00" fill="#4a4a52"/>
<rect x="172.00" y="283.00" width="6.00" height="2.00" fill="#4a4a52"/>
<rect x="172.00" y="286.00" width="6.00" height="2.00" fill="#4a4a52"/>
<rect x="172.00" y="289.00" width="5.00" height="2.00" fill="#4a4a52"/>
<rect x="172.00" y="292.00" width="6.00" height="2.00" fill="#4a4a52"/>
<rect x="172.00" y="295.00" width="5.00" height="2.00" fill="#4a4a52"/>
<rect x="172.00" y="298.00" width="6.00" height="2.00" fill="#4a4a52"/>
<rect x="172.00" y="301.00" width="6.00" height="2.00" fill="#4a4a52"/>
<rect x="172.00" y="304.00" width="5.00" height="2.00" fill="#4a4a52"/>
<rect x="172.00" y="307.00" width="6.00" height="2.00" fill="#4a4a52"/>
<rect x="172.00" y="311.00" width="6.00" height="2.00" fill="#4a4a52"/>
<rect x="172.00" y="314.00" width="6.00" height="2.00" fill="#4a4a52"/>
<rect x="172.00" y="317.00" width="5.00" height="2.00" fill="#4a4a52"/>
<rect x="172.00" y="320.00" width="6.00" height="2.00" fill="#4a4a52"/>
<rect x="172.00" y="323.00" width="6.00" height="2.00" fill="#4a4a52"/>
<rect x="172.00" y="326.00" width="6.00" height="2.00" fill="#4a4a52"/>
<rect x="172.00" y="329.00" width="6.00" height="2.00" fill="#4a4a52"/>
<rect x="172.00" y="332.00" width="6.00" height="2.00" fill="#4a4a52"/>
<rect x="172.00" y="335.00" width="5.00" height="2.00" fill="#4a4a52"/>
<rect x="172.00" y="338.00" width="5.00" height="2.00" fill="#4a4a52"/>
<rect x="172.00" y="342.00" width="5.00" height="2.00" fill="#4a4a52"/>
<rect x="172.00" y="345.00" width="6.00" height="2.00" fill="#4a4a52"/>
<rect x="172.00" y="348.00" width="6.00" height="2.00" fill="#4a4a52"/>
<rect x="172.00" y="351.00" width="5.00" height="2.00" fill="#4a4a52"/>
<rect x="172.00" y="354.00" width="5.00" height="2.00" fill="#4a4a52"/>
<rect x="172.00" y="357.00" width="6.00" height="2.00" fill="#4a4a52"/>
<rect x="172.00" y="360.00" width="6.00" height="2.00" fill="#4a4a52"/>
<rect x="172.00" y="363.00" width="5.00" height="2.00" fill="#4a4a52"/>
<rect x="172.00" y="366.00" width="6.00" height="2.00" fill="#4a4a52"/>
<rect x="172.00" y="369.00" width="5.00" height="2.00" fill="#4a4a52"/>
<rect x="172.00" y="373.00" width="6.00" height="2.00" fill="#4a4a52"/>
<rect x="172.00" y="376.00" width="5.00" height="2.00" fill="#4a4a52"/>
<rect x="172.00" y="379.00" width="6.00" height="2.00" fill="#4a4a52"/>
<rect x="172.00" y="382.00" width="6.00" height="2.00" fill="#4a4a52"/>
<rect x="172.00" y="385.00" width="6.00" height="2.00" fill="#4a4a52"/>
<rect x="172.00" y="388.00" width="6.00" height="2.00" fill="#4a4a52"/>
<rect x="172.00" y="391.00" width="6.00" height="2.00" fill="#4a4a52"/>
<rect x="172.00" y="394.00" width="6.00" height="2.00" fill="#4a4a52"/>
<rect x="172.00" y="397.00" width="6.00" height="2.00" fill="#4a4a52"/>
<rect x="172.00" y="400.00" width="6.00" height="2.00" fill="#4a4a52"/>
<rect x="172.00" y="404.00" width="5.00" height="2.00" fill="#4a4a52"/>
<rect x="172.00" y="407.00" width="6.00" height="2.00" fill="#4a4a52"/>
<rect x="172.00" y="410.00" width="6.00" height="2.00" fill="#4a4a52"/>
<rect x="172.00" y="413.00" width="6.00" height="2.00" fill="#4a4a52"/>
<rect x="172.00" y="416.00" width="6.00" height="2.00" fill="#4a4a52"/>
<rect x="172.00" y="419.00" width="6.00" height="2.00" fill="#4a4a52"/>
<rect x="172.00" y="422.00" width="5.00" height="2.00" fill="#4a4a52"/>
<rect x="172.00" y="425.00" width="6.00" height="2.00" fill="#4a4a52"/>
<rect x="172.00" y="428.00" width="6.00" height="2.00" fill="#4a4a52"/>
<rect x="172.00" y="431.00" width="6.00" height="2.00" fill="#4a4a52"/>
<rect x="172.00" y="435.00" width="6.00" height="2.00" fill="#4a4a52"/>
<rect x="172.00" y="438.00" width="5.00" height="2.00" fill="#4a4a52"/>
<rect x="172.00" y="441.00" width="5.00" height="2.00" fill="#4a4a52"/>
<rect x="172.00" y="444.00" width="5.00" height="2.00" fill="#4a4a52"/>
<rect x="172.00" y="447.00" width="5.00" height="2.00" fill="#4a4a52"/>
<rect x="172.00" y="450.00" width="5.00" height="2.00" fill="#4a4a52"/>
<rect x="172.00" y="453.00" width="6.00" height="2.00" fill="#4a4a52"/>
<rect x="172.00" y="456.00" width="5.00" height="2.00" fill="#4a4a52"/>
<rect x="172.00" y="459.00" width="5.00" height="2.00" fill="#4a4a52"/>
<rect x="172.00" y="462.00" width="6.00" height="2.00" fill="#4a4a52"/>
<rect x="172.00" y="466.00" width="6.00" height="2.00" fill="#4a4a52"/>
<rect x="172.00" y="469.00" width="6.00" height="2.00" fill="#4a4a52"/>
<rect x="172.00" y="472.00" width="6.00" height="2.00" fill="#4a4a52"/>
<rect x="172.00" y="475.00" width="5.00" height="2.00" fill="#4a4a52"/>
<rect x="172.00" y="478.00" width="6.00" height="2.00" fill="#4a4a52"/>
<rect x="172.00" y="481.00" width="6.00" height="2.00" fill="#4a4a52"/>
<rect x="172.00" y="484.00" width="6.00" height="2.00" fill="#4a4a52"/>
<rect x="172.00" y="487.00" width="6.00" height="2.00" fill="#4a4a52"/>
<rect x="172.00" y="490.00" width="6.00" height="2.00" fill="#4a4a52"/>
<rect x="172.00" y="493.00" width="6.00" height="2.00" fill="#4a4a52"/>
<rect x="172.00" y="497.00" width="6.00" height="2.00" fill="#4a4a52"/>
<rect x="172.00" y="500.00" width="6.00" height="2.00" fill="#4a4a52"/>
<rect x="172.00" y="503.00" width="6.00" height="2.00" fill="#4a4a52"/>
<rect x="172.00" y="506.00" width="6.00" height="2.00" fill="#4a4a52"/>
<rect x="172.00" y="509.00" width="6.00" height="2.00" fill="#4a4a52"/>
<rect x="109.20" y="22.20" width="1.70" height="10.80" fill="#6c6c70" shape-rendering="auto"/>
<rect x="109.45" y="33.00" width="1.19" height="10.90" fill="#b4b4b8" shape-rendering="auto"/>
<rect x="109.20" y="42.39" width="1.70" height="1.51" fill="#383838" shape-rendering="auto"/>
<rect x="109.20" y="39.64" width="1.70" height="1.51" fill="#383838" shape-rendering="auto"/>
<rect x="109.20" y="36.89" width="1.70" height="1.51" fill="#383838" shape-rendering="auto"/>
<rect x="109.20" y="34.14" width="1.70" height="1.51" fill="#383838" shape-rendering="auto"/>
<rect x="109.20" y="31.39" width="1.70" height="1.51" fill="#383838" shape-rendering="auto"/>
<rect x="109.20" y="28.64" width="1.70" height="1.51" fill="#383838" shape-rendering="auto"/>
<rect x="109.20" y="25.89" width="1.70" height="1.51" fill="#383838" shape-rendering="auto"/>
<rect x="109.20" y="23.14" width="1.70" height="1.51" fill="#383838" shape-rendering="auto"/>
<rect x="112.30" y="26.00" width="1.70" height="7.00" fill="#6c6c70" shape-rendering="auto"/>
<rect x="112.56" y="33.00" width="1.19" height="10.90" fill="#b4b4b8" shape-rendering="auto"/>
<rect x="112.30" y="42.39" width="1.70" height="1.51" fill="#383838" shape-rendering="auto"/>
<rect x="112.30" y="39.64" width="1.70" height="1.51" fill="#383838" shape-rendering="auto"/>
<rect x="112.30" y="36.89" width="1.70" height="1.51" fill="#383838" shape-rendering="auto"/>
<rect x="112.30" y="34.14" width="1.70" height="1.51" fill="#383838" shape-rendering="auto"/>
<rect x="112.30" y="31.39" width="1.70" height="1.51" fill="#383838" shape-rendering="auto"/>
<rect x="112.30" y="28.64" width="1.70" height="1.51" fill="#383838" shape-rendering="auto"/>
<rect x="112.30" y="25.89" width="1.70" height="1.51" fill="#383838" shape-rendering="auto"/>
<rect x="115.40" y="20.60" width="1.70" height="12.40" fill="#6c6c70" shape-rendering="auto"/>
<rect x="115.66" y="33.00" width="1.19" height="10.90" fill="#b4b4b8" shape-rendering="auto"/>
<rect x="115.40" y="42.39" width="1.70" height="1.51" fill="#383838" shape-rendering="auto"/>
<rect x="115.40" y="39.64" width="1.70" height="1.51" fill="#383838" shape-rendering="auto"/>
<rect x="115.40" y="36.89" width="1.70" height="1.51" fill="#383838" shape-rendering="auto"/>
<rect x="115.40" y="34.14" width="1.70" height="1.51" fill="#383838" shape-rendering="auto"/>
<rect x="115.40" y="31.39" width="1.70" height="1.51" fill="#383838" shape-rendering="auto"/>
<rect x="115.40" y="28.64" width="1.70" height="1.51" fill="#383838" shape-rendering="auto"/>
<rect x="115.40" y="25.89" width="1.70" height="1.51" fill="#383838" shape-rendering="auto"/>
<rect x="115.40" y="23.14" width="1.70" height="1.51" fill="#383838" shape-rendering="auto"/>
<rect x="118.50" y="21.60" width="1.70" height="11.40" fill="#6c6c70" shape-rendering="auto"/>
<rect x="118.75" y="33.00" width="1.19" height="10.90" fill="#b4b4b8" shape-rendering="auto"/>
<rect x="118.50" y="42.39" width="1.70" height="1.51" fill="#383838" shape-rendering="auto"/>
<rect x="118.50" y="39.64" width="1.70" height="1.51" fill="#383838" shape-rendering="auto"/>
<rect x="118.50" y="36.89" width="1.70" height="1.51" fill="#383838" shape-rendering="auto"/>
<rect x="118.50" y="34.14" width="1.70" height="1.51" fill="#383838" shape-rendering="auto"/>
<rect x="118.50" y="31.39" width="1.70" height="1.51" fill="#383838" shape-rendering="auto"/>
<rect x="118.50" y="28.64" width="1.70" height="1.51" fill="#383838" shape-rendering="auto"/>
<rect x="118.50" y="25.89" width="1.70" height="1.51" fill="#383838" shape-rendering="auto"/>
<rect x="118.50" y="23.14" width="1.70" height="1.51" fill="#383838" shape-rendering="auto"/>
<rect x="121.60" y="26.70" width="1.70" height="6.30" fill="#6c6c70" shape-rendering="auto"/>
<rect x="121.86" y="33.00" width="1.19" height="10.90" fill="#b4b4b8" shape-rendering="auto"/>
<rect x="121.60" y="42.39" width="1.70" height="1.51" fill="#383838" shape-rendering="auto"/>
<rect x="121.60" y="39.64" width="1.70" height="1.51" fill="#383838" shape-rendering="auto"/>
<rect x="121.60" y="36.89" width="1.70" height="1.51" fill="#383838" shape-rendering="auto"/>
<rect x="121.60" y="34.14" width="1.70" height="1.51" fill="#383838" shape-rendering="auto"/>
<rect x="121.60" y="31.39" width="1.70" height="1.51" fill="#383838" shape-rendering="auto"/>
<rect x="121.60" y="28.64" width="1.70" height="1.51" fill="#383838" shape-rendering="auto"/>
<rect x="124.70" y="28.00" width="1.70" height="5.00" fill="#6c6c70" shape-rendering="auto"/>
<rect x="124.95" y="33.00" width="1.19" height="10.90" fill="#b4b4b8" shape-rendering="auto"/>
<rect x="124.70" y="42.39" width="1.70" height="1.51" fill="#383838" shape-rendering="auto"/>
<rect x="124.70" y="39.64" width="1.70" height="1.51" fill="#383838" shape-rendering="auto"/>
<rect x="124.70" y="36.89" width="1.70" height="1.51" fill="#383838" shape-rendering="auto"/>
<rect x="124.70" y="34.14" width="1.70" height="1.51" fill="#383838" shape-rendering="auto"/>
<rect x="124.70" y="31.39" width="1.70" height="1.51" fill="#383838" shape-rendering="auto"/>
<rect x="124.70" y="28.64" width="1.70" height="1.51" fill="#383838" shape-rendering="auto"/>
<rect x="127.80" y="26.00" width="1.70" height="7.00" fill="#6c6c70" shape-rendering="auto"/>
<rect x="128.06" y="33.00" width="1.19" height="10.90" fill="#b4b4b8" shape-rendering="auto"/>
<rect x="127.80" y="42.39" width="1.70" height="1.51" fill="#383838" shape-rendering="auto"/>
<rect x="127.80" y="39.64" width="1.70" height="1.51" fill="#383838" shape-rendering="auto"/>
<rect x="127.80" y="36.89" width="1.70" height="1.51" fill="#383838" shape-rendering="auto"/>
<rect x="127.80" y="34.14" width="1.70" height="1.51" fill="#383838" shape-rendering="auto"/>
<rect x="127.80" y="31.39" width="1.70" height="1.51" fill="#383838" shape-rendering="auto"/>
<rect x="127.80" y="28.64" width="1.70" height="1.51" fill="#383838" shape-rendering="auto"/>
<rect x="127.80" y="25.89" width="1.70" height="1.51" fill="#383838" shape-rendering="auto"/>
<rect x="130.90" y="28.00" width="1.70" height="5.00" fill="#6c6c70" shape-rendering="auto"/>
<rect x="131.16" y="33.00" width="1.19" height="10.90" fill="#b4b4b8" shape-rendering="auto"/>
<rect x="130.90" y="42.39" width="1.70" height="1.51" fill="#383838" shape-rendering="auto"/>
<rect x="130.90" y="39.64" width="1.70" height="1.51" fill="#383838" shape-rendering="auto"/>
<rect x="130.90" y="36.89" width="1.70" height="1.51" fill="#383838" shape-rendering="auto"/>
<rect x="130.90" y="34.14" width="1.70" height="1.51" fill="#383838" shape-rendering="auto"/>
<rect x="130.90" y="31.39" width="1.70" height="1.51" fill="#383838" shape-rendering="auto"/>
<rect x="130.90" y="28.64" width="1.70" height="1.51" fill="#383838" shape-rendering="auto"/>
<rect x="134.00" y="19.70" width="1.70" height="13.30" fill="#6c6c70" shape-rendering="auto"/>
<rect x="134.25" y="33.00" width="1.19" height="10.90" fill="#b4b4b8" shape-rendering="auto"/>
<rect x="134.00" y="42.39" width="1.70" height="1.51" fill="#383838" shape-rendering="auto"/>
<rect x="134.00" y="39.64" width="1.70" height="1.51" fill="#383838" shape-rendering="auto"/>
<rect x="134.00" y="36.89" width="1.70" height="1.51" fill="#383838" shape-rendering="auto"/>
<rect x="134.00" y="34.14" width="1.70" height="1.51" fill="#383838" shape-rendering="auto"/>
<rect x="134.00" y="31.39" width="1.70" height="1.51" fill="#383838" shape-rendering="auto"/>
<rect x="134.00" y="28.64" width="1.70" height="1.51" fill="#383838" shape-rendering="auto"/>
<rect x="134.00" y="25.89" width="1.70" height="1.51" fill="#383838" shape-rendering="auto"/>
<rect x="134.00" y="23.14" width="1.70" height="1.51" fill="#383838" shape-rendering="auto"/>
<rect x="134.00" y="20.39" width="1.70" height="1.51" fill="#383838" shape-rendering="auto"/>
<rect x="137.10" y="22.20" width="1.70" height="10.80" fill="#6c6c70" shape-rendering="auto"/>
<rect x="137.35" y="33.00" width="1.19" height="10.90" fill="#b4b4b8" shape-rendering="auto"/>
<rect x="137.10" y="42.39" width="1.70" height="1.51" fill="#383838" shape-rendering="auto"/>
<rect x="137.10" y="39.64" width="1.70" height="1.51" fill="#383838" shape-rendering="auto"/>
<rect x="137.10" y="36.89" width="1.70" height="1.51" fill="#383838" shape-rendering="auto"/>
<rect x="137.10" y="34.14" width="1.70" height="1.51" fill="#383838" shape-rendering="auto"/>
<rect x="137.10" y="31.39" width="1.70" height="1.51" fill="#383838" shape-rendering="auto"/>
<rect x="137.10" y="28.64" width="1.70" height="1.51" fill="#383838" shape-rendering="auto"/>
<rect x="137.10" y="25.89" width="1.70" height="1.51" fill="#383838" shape-rendering="auto"/>
<rect x="137.10" y="23.14" width="1.70" height="1.51" fill="#383838" shape-rendering="auto"/>
<rect x="140.20" y="26.00" width="1.70" height="7.00" fill="#6c6c70" shape-rendering="auto"/>
<rect x="140.46" y="33.00" width="1.19" height="10.90" fill="#b4b4b8" shape-rendering="auto"/>
<rect x="140.20" y="42.39" width="1.70" height="1.51" fill="#383838" shape-rendering="auto"/>
<rect x="140.20" y="39.64" width="1.70" height="1.51" fill="#383838" shape-rendering="auto"/>
<rect x="140.20" y="36.89" width="1.70" height="1.51" fill="#383838" shape-rendering="auto"/>
<rect x="140.20" y="34.14" width="1.70" height="1.51" fill="#383838" shape-rendering="auto"/>
<rect x="140.20" y="31.39" width="1.70" height="1.51" fill="#383838" shape-rendering="auto"/>
<rect x="140.20" y="28.64" width="1.70" height="1.51" fill="#383838" shape-rendering="auto"/>
<rect x="140.20" y="25.89" width="1.70" height="1.51" fill="#383838" shape-rendering="auto"/>
<rect x="143.30" y="26.70" width="1.70" height="6.30" fill="#6c6c70" shape-rendering="auto"/>
<rect x="143.56" y="33.00" width="1.19" height="10.90" fill="#b4b4b8" shape-rendering="auto"/>
<rect x="143.30" y="42.39" width="1.70" height="1.51" fill="#383838" shape-rendering="auto"/>
<rect x="143.30" y="39.64" width="1.70" height="1.51" fill="#383838" shape-rendering="auto"/>
<rect x="143.30" y="36.89" width="1.70" height="1.51" fill="#383838" shape-rendering="auto"/>
<rect x="143.30" y="34.14" width="1.70" height="1.51" fill="#383838" shape-rendering="auto"/>
<rect x="143.30" y="31.39" width="1.70" height="1.51" fill="#383838" shape-rendering="auto"/>
<rect x="143.30" y="28.64" width="1.70" height="1.51" fill="#383838" shape-rendering="auto"/>
<rect x="146.40" y="28.00" width="1.70" height="5.00" fill="#6c6c70" shape-rendering="auto"/>
<rect x="146.66" y="33.00" width="1.19" height="10.90" fill="#b4b4b8" shape-rendering="auto"/>
<rect x="146.40" y="42.39" width="1.70" height="1.51" fill="#383838" shape-rendering="auto"/>
<rect x="146.40" y="39.64" width="1.70" height="1.51" fill="#383838" shape-rendering="auto"/>
<rect x="146.40" y="36.89" width="1.70" height="1.51" fill="#383838" shape-rendering="auto"/>
<rect x="146.40" y="34.14" width="1.70" height="1.51" fill="#383838" shape-rendering="auto"/>
<rect x="146.40" y="31.39" width="1.70" height="1.51" fill="#383838" shape-rendering="auto"/>
<rect x="146.40" y="28.64" width="1.70" height="1.51" fill="#383838" shape-rendering="auto"/>
<rect x="149.50" y="28.00" width="1.70" height="5.00" fill="#6c6c70" shape-rendering="auto"/>
<rect x="149.75" y="33.00" width="1.19" height="10.90" fill="#b4b4b8" shape-rendering="auto"/>
<rect x="149.50" y="42.39" width="1.70" height="1.51" fill="#383838" shape-rendering="auto"/>
<rect x="149.50" y="39.64" width="1.70" height="1.51" fill="#383838" shape-rendering="auto"/>
<rect x="149.50" y="36.89" width="1.70" height="1.51" fill="#383838" shape-rendering="auto"/>
<rect x="149.50" y="34.14" width="1.70" height="1.51" fill="#383838" shape-rendering="auto"/>
<rect x="149.50" y="31.39" width="1.70" height="1.51" fill="#383838" shape-rendering="auto"/>
<rect x="149.50" y="28.64" width="1.70" height="1.51" fill="#383838" shape-rendering="auto"/>
<rect x="152.60" y="28.00" width="1.70" height="5.00" fill="#6c6c70" shape-rendering="auto"/>
<rect x="152.85" y="33.00" width="1.19" height="10.90" fill="#b4b4b8" shape-rendering="auto"/>
<rect x="152.60" y="42.39" width="1.70" height="1.51" fill="#383838" shape-rendering="auto"/>
<rect x="152.60" y="39.64" width="1.70" height="1.51" fill="#383838" shape-rendering="auto"/>
<rect x="152.60" y="36.89" width="1.70" height="1.51" fill="#383838" shape-rendering="auto"/>
<rect x="152.60" y="34.14" width="1.70" height="1.51" fill="#383838" shape-rendering="auto"/>
<rect x="152.60" y="31.39" width="1.70" height="1.51" fill="#383838" shape-rendering="auto"/>
<rect x="152.60" y="28.64" width="1.70" height="1.51" fill="#383838" shape-rendering="auto"/>
<rect x="155.70" y="26.70" width="1.70" height="6.30" fill="#6c6c70" shape-rendering="auto"/>
<rect x="155.96" y="33.00" width="1.19" height="10.90" fill="#b4b4b8" shape-rendering="auto"/>
<rect x="155.70" y="42.39" width="1.70" height="1.51" fill="#383838" shape-rendering="auto"/>
<rect x="155.70" y="39.64" width="1.70" height="1.51" fill="#383838" shape-rendering="auto"/>
<rect x="155.70" y="36.89" width="1.70" height="1.51" fill="#383838" shape-rendering="auto"/>
<rect x="155.70" y="34.14" width="1.70" height="1.51" fill="#383838" shape-rendering="auto"/>
<rect x="155.70" y="31.39" width="1.70" height="1.51" fill="#383838" shape-rendering="auto"/>
<rect x="155.70" y="28.64" width="1.70" height="1.51" fill="#383838" shape-rendering="auto"/>
<rect x="158.80" y="28.00" width="1.70" height="5.00" fill="#6c6c70" shape-rendering="auto"/>
<rect x="159.06" y="33.00" width="1.19" height="10.90" fill="#b4b4b8" shape-rendering="auto"/>
<rect x="158.80" y="42.39" width="1.70" height="1.51" fill="#383838" shape-rendering="auto"/>
<rect x="158.80" y="39.64" width="1.70" height="1.51" fill="#383838" shape-rendering="auto"/>
<rect x="158.80" y="36.89" width="1.70" height="1.51" fill="#383838" shape-rendering="auto"/>
<rect x="158.80" y="34.14" width="1.70" height="1.51" fill="#383838" shape-rendering="auto"/>
<rect x="158.80" y="31.39" width="1.70" height="1.51" fill="#383838" shape-rendering="auto"/>
<rect x="158.80" y="28.64" width="1.70" height="1.51" fill="#383838" shape-rendering="auto"/>
<rect x="161.90" y="28.00" width="1.70" height="5.00" fill="#6c6c70" shape-rendering="auto"/>
<rect x="162.16" y="33.00" width="1.19" height="10.90" fill="#b4b4b8" shape-rendering="auto"/>
<rect x="161.90" y="42.39" width="1.70" height="1.51" fill="#383838" shape-rendering="auto"/>
<rect x="161.90" y="39.64" width="1.70" height="1.51" fill="#383838" shape-rendering="auto"/>
<rect x="161.90" y="36.89" width="1.70" height="1.51" fill="#383838" shape-rendering="auto"/>
<rect x="161.90" y="34.14" width="1.70" height="1.51" fill="#383838" shape-rendering="auto"/>
<rect x="161.90" y="31.39" width="1.70" height="1.51" fill="#383838" shape-rendering="auto"/>
<rect x="161.90" y="28.64" width="1.70" height="1.51" fill="#383838" shape-rendering="auto"/>
<rect x="165.00" y="26.70" width="1.70" height="6.30" fill="#6c6c70" shape-rendering="auto"/>
<rect x="165.25" y="33.00" width="1.19" height="10.90" fill="#b4b4b8" shape-rendering="auto"/>
<rect x="165.00" y="42.39" width="1.70" height="1.51" fill="#383838" shape-rendering="auto"/>
<rect x="165.00" y="39.64" width="1.70" height="1.51" fill="#383838" shape-rendering="auto"/>
<rect x="165.00" y="36.89" width="1.70" height="1.51" fill="#383838" shape-rendering="auto"/>
<rect x="165.00" y="34.14" width="1.70" height="1.51" fill="#383838" shape-rendering="auto"/>
<rect x="165.00" y="31.39" width="1.70" height="1.51" fill="#383838" shape-rendering="auto"/>
<rect x="165.00" y="28.64" width="1.70" height="1.51" fill="#383838" shape-rendering="auto"/>
<rect x="168.10" y="25.40" width="1.70" height="7.60" fill="#6c6c70" shape-rendering="auto"/>
<rect x="168.35" y="33.00" width="1.19" height="10.90" fill="#b4b4b8" shape-rendering="auto"/>
<rect x="168.10" y="42.39" width="1.70" height="1.51" fill="#383838" shape-rendering="auto"/>
<rect x="168.10" y="39.64" width="1.70" height="1.51" fill="#383838" shape-rendering="auto"/>
<rect x="168.10" y="36.89" width="1.70" height="1.51" fill="#383838" shape-rendering="auto"/>
<rect x="168.10" y="34.14" width="1.70" height="1.51" fill="#383838" shape-rendering="auto"/>
<rect x="168.10" y="31.39" width="1.70" height="1.51" fill="#383838" shape-rendering="auto"/>
<rect x="168.10" y="28.64" width="1.70" height="1.51" fill="#383838" shape-rendering="auto"/>
<rect x="168.10" y="25.89" width="1.70" height="1.51" fill="#383838" shape-rendering="auto"/>
<rect x="347.00" y="68.40" width="64.40" height="204.00" fill="#020204"/>
<rect x="347.00" y="68.40" width="6.44" height="4.08" fill="#b4cc18"/>
<rect x="356.66" y="68.40" width="9.66" height="4.08" fill="#b4cc18"/>
<rect x="366.32" y="68.40" width="3.22" height="4.08" fill="#e2ee0c"/>
<rect x="375.98" y="68.40" width="3.22" height="4.08" fill="#a6aabc"/>
<rect x="408.18" y="68.40" width="3.22" height="4.08" fill="#e2ee0c"/>
<rect x="347.00" y="72.48" width="6.44" height="4.08" fill="#b4cc18"/>
<rect x="356.66" y="72.48" width="9.66" height="4.08" fill="#b4cc18"/>
<rect x="366.32" y="72.48" width="3.22" height="4.08" fill="#e2ee0c"/>
<rect x="375.98" y="72.48" width="3.22" height="4.08" fill="#a6aabc"/>
<rect x="408.18" y="72.48" width="3.22" height="4.08" fill="#e2ee0c"/>
<rect x="366.32" y="76.56" width="3.22" height="4.08" fill="#e2ee0c"/>
<rect x="366.32" y="80.64" width="3.22" height="4.08" fill="#e2ee0c"/>
<rect x="356.66" y="84.72" width="3.22" height="4.08" fill="#869218"/>
<rect x="359.88" y="84.72" width="9.66" height="4.08" fill="#e2ee0c"/>
<rect x="375.98" y="84.72" width="3.22" height="4.08" fill="#869218"/>
<rect x="356.66" y="88.80" width="3.22" height="4.08" fill="#869218"/>
<rect x="359.88" y="88.80" width="9.66" height="4.08" fill="#e2ee0c"/>
<rect x="356.66" y="92.88" width="3.22" height="4.08" fill="#869218"/>
<rect x="359.88" y="92.88" width="9.66" height="4.08" fill="#e2ee0c"/>
<rect x="375.98" y="92.88" width="3.22" height="4.08" fill="#a6aabc"/>
<rect x="356.66" y="96.96" width="3.22" height="4.08" fill="#869218"/>
<rect x="359.88" y="96.96" width="9.66" height="4.08" fill="#e2ee0c"/>
<rect x="375.98" y="96.96" width="3.22" height="4.08" fill="#a6aabc"/>
<rect x="356.66" y="101.04" width="3.22" height="4.08" fill="#869218"/>
<rect x="359.88" y="101.04" width="9.66" height="4.08" fill="#e2ee0c"/>
<rect x="375.98" y="101.04" width="3.22" height="4.08" fill="#869218"/>
<rect x="356.66" y="105.12" width="3.22" height="4.08" fill="#869218"/>
<rect x="359.88" y="105.12" width="9.66" height="4.08" fill="#e2ee0c"/>
<rect x="350.22" y="109.20" width="3.22" height="4.08" fill="#869218"/>
<rect x="356.66" y="109.20" width="3.22" height="4.08" fill="#869218"/>
<rect x="359.88" y="109.20" width="9.66" height="4.08" fill="#e2ee0c"/>
<rect x="392.08" y="109.20" width="3.22" height="4.08" fill="#869218"/>
<rect x="350.22" y="113.28" width="3.22" height="4.08" fill="#869218"/>
<rect x="356.66" y="113.28" width="3.22" height="4.08" fill="#869218"/>
<rect x="359.88" y="113.28" width="9.66" height="4.08" fill="#e2ee0c"/>
<rect x="392.08" y="113.28" width="3.22" height="4.08" fill="#869218"/>
<rect x="347.00" y="117.36" width="3.22" height="4.08" fill="#c0a040"/>
<rect x="356.66" y="117.36" width="3.22" height="4.08" fill="#869218"/>
<rect x="359.88" y="117.36" width="9.66" height="4.08" fill="#e2ee0c"/>
<rect x="375.98" y="117.36" width="3.22" height="4.08" fill="#a6aabc"/>
<rect x="408.18" y="117.36" width="3.22" height="4.08" fill="#869218"/>
<rect x="347.00" y="121.44" width="3.22" height="4.08" fill="#c0a040"/>
<rect x="356.66" y="121.44" width="3.22" height="4.08" fill="#869218"/>
<rect x="359.88" y="121.44" width="9.66" height="4.08" fill="#e2ee0c"/>
<rect x="375.98" y="121.44" width="3.22" height="4.08" fill="#a6aabc"/>
<rect x="408.18" y="121.44" width="3.22" height="4.08" fill="#869218"/>
<rect x="356.66" y="125.52" width="6.44" height="4.08" fill="#869218"/>
<rect x="363.10" y="125.52" width="6.44" height="4.08" fill="#e2ee0c"/>
<rect x="363.10" y="129.60" width="3.22" height="4.08" fill="#869218"/>
<rect x="366.32" y="129.60" width="3.22" height="4.08" fill="#e2ee0c"/>
<rect x="363.10" y="133.68" width="3.22" height="4.08" fill="#869218"/>
<rect x="366.32" y="133.68" width="3.22" height="4.08" fill="#e2ee0c"/>
<rect x="356.66" y="137.76" width="9.66" height="4.08" fill="#869218"/>
<rect x="366.32" y="137.76" width="3.22" height="4.08" fill="#e2ee0c"/>
<rect x="375.98" y="137.76" width="3.22" height="4.08" fill="#869218"/>
<rect x="356.66" y="141.84" width="9.66" height="4.08" fill="#869218"/>
<rect x="366.32" y="141.84" width="3.22" height="4.08" fill="#e2ee0c"/>
<rect x="375.98" y="141.84" width="3.22" height="4.08" fill="#869218"/>
<rect x="359.88" y="145.92" width="6.44" height="4.08" fill="#869218"/>
<rect x="366.32" y="145.92" width="3.22" height="4.08" fill="#e2ee0c"/>
<rect x="359.88" y="150.00" width="6.44" height="4.08" fill="#869218"/>
<rect x="366.32" y="150.00" width="3.22" height="4.08" fill="#e2ee0c"/>
<rect x="366.32" y="154.08" width="3.22" height="4.08" fill="#e2ee0c"/>
<rect x="395.30" y="154.08" width="3.22" height="4.08" fill="#869218"/>
<rect x="366.32" y="158.16" width="3.22" height="4.08" fill="#e2ee0c"/>
<rect x="363.10" y="162.24" width="3.22" height="4.08" fill="#869218"/>
<rect x="366.32" y="162.24" width="3.22" height="4.08" fill="#e2ee0c"/>
<rect x="395.30" y="162.24" width="6.44" height="4.08" fill="#e2ee0c"/>
<rect x="366.32" y="166.32" width="3.22" height="4.08" fill="#e2ee0c"/>
<rect x="379.20" y="166.32" width="3.22" height="4.08" fill="#869218"/>
<rect x="392.08" y="166.32" width="3.22" height="4.08" fill="#869218"/>
<rect x="366.32" y="170.40" width="3.22" height="4.08" fill="#e2ee0c"/>
<rect x="366.32" y="174.48" width="3.22" height="4.08" fill="#869218"/>
<rect x="366.32" y="178.56" width="3.22" height="4.08" fill="#e2ee0c"/>
<rect x="392.08" y="178.56" width="3.22" height="4.08" fill="#869218"/>
<rect x="366.32" y="182.64" width="3.22" height="4.08" fill="#e2ee0c"/>
<rect x="392.08" y="182.64" width="3.22" height="4.08" fill="#869218"/>
<rect x="366.32" y="186.72" width="3.22" height="4.08" fill="#e2ee0c"/>
<rect x="366.32" y="190.80" width="3.22" height="4.08" fill="#e2ee0c"/>
<rect x="392.08" y="190.80" width="3.22" height="4.08" fill="#869218"/>
<rect x="356.66" y="194.88" width="6.44" height="4.08" fill="#869218"/>
<rect x="366.32" y="194.88" width="3.22" height="4.08" fill="#e2ee0c"/>
<rect x="408.18" y="194.88" width="3.22" height="4.08" fill="#869218"/>
<rect x="366.32" y="198.96" width="3.22" height="4.08" fill="#869218"/>
<rect x="353.44" y="207.12" width="3.22" height="4.08" fill="#a6aabc"/>
<rect x="366.32" y="207.12" width="3.22" height="4.08" fill="#869218"/>
<rect x="392.08" y="207.12" width="6.44" height="4.08" fill="#869218"/>
<rect x="398.52" y="207.12" width="3.22" height="4.08" fill="#e2ee0c"/>
<rect x="353.44" y="211.20" width="3.22" height="4.08" fill="#a6aabc"/>
<rect x="392.08" y="211.20" width="3.22" height="4.08" fill="#869218"/>
<rect x="398.52" y="211.20" width="3.22" height="4.08" fill="#e2ee0c"/>
<rect x="366.32" y="215.28" width="3.22" height="4.08" fill="#e2ee0c"/>
<rect x="392.08" y="215.28" width="9.66" height="4.08" fill="#869218"/>
<rect x="366.32" y="219.36" width="3.22" height="4.08" fill="#e2ee0c"/>
<rect x="392.08" y="219.36" width="3.22" height="4.08" fill="#869218"/>
<rect x="395.30" y="219.36" width="6.44" height="4.08" fill="#e2ee0c"/>
<rect x="408.18" y="219.36" width="3.22" height="4.08" fill="#e2ee0c"/>
<rect x="363.10" y="223.44" width="3.22" height="4.08" fill="#869218"/>
<rect x="366.32" y="223.44" width="3.22" height="4.08" fill="#e2ee0c"/>
<rect x="392.08" y="223.44" width="9.66" height="4.08" fill="#e2ee0c"/>
<rect x="408.18" y="223.44" width="3.22" height="4.08" fill="#e2ee0c"/>
<rect x="366.32" y="231.60" width="3.22" height="4.08" fill="#e2ee0c"/>
<rect x="375.98" y="231.60" width="3.22" height="4.08" fill="#e2ee0c"/>
<rect x="392.08" y="231.60" width="9.66" height="4.08" fill="#869218"/>
<rect x="366.32" y="235.68" width="3.22" height="4.08" fill="#e2ee0c"/>
<rect x="392.08" y="235.68" width="3.22" height="4.08" fill="#e2ee0c"/>
<rect x="408.18" y="235.68" width="3.22" height="4.08" fill="#869218"/>
<rect x="392.08" y="239.76" width="3.22" height="4.08" fill="#e2ee0c"/>
<rect x="408.18" y="239.76" width="3.22" height="4.08" fill="#a6aabc"/>
<rect x="366.32" y="243.84" width="3.22" height="4.08" fill="#e2ee0c"/>
<rect x="392.08" y="243.84" width="3.22" height="4.08" fill="#e2ee0c"/>
<rect x="398.52" y="243.84" width="3.22" height="4.08" fill="#869218"/>
<rect x="366.32" y="247.92" width="3.22" height="4.08" fill="#869218"/>
<rect x="392.08" y="247.92" width="3.22" height="4.08" fill="#869218"/>
<rect x="366.32" y="252.00" width="3.22" height="4.08" fill="#e2ee0c"/>
<rect x="392.08" y="252.00" width="3.22" height="4.08" fill="#e2ee0c"/>
<rect x="408.18" y="252.00" width="3.22" height="4.08" fill="#a6aabc"/>
<rect x="392.08" y="256.08" width="3.22" height="4.08" fill="#e2ee0c"/>
<rect x="392.08" y="260.16" width="3.22" height="4.08" fill="#869218"/>
<rect x="408.18" y="260.16" width="3.22" height="4.08" fill="#869218"/>
<rect x="347.00" y="264.24" width="3.22" height="4.08" fill="#869218"/>
<rect x="385.64" y="264.24" width="3.22" height="4.08" fill="#e2ee0c"/>
<rect x="359.88" y="268.32" width="3.22" height="4.08" fill="#869218"/>
<rect x="366.32" y="268.32" width="3.22" height="4.08" fill="#869218"/>
<rect x="385.64" y="268.32" width="3.22" height="4.08" fill="#e2ee0c"/>
<rect x="388.86" y="268.32" width="6.44" height="4.08" fill="#869218"/>
<rect x="408.18" y="268.32" width="3.22" height="4.08" fill="#869218"/>
<rect x="347.00" y="62.80" width="58.00" height="3.80" fill="#050505"/>
<rect x="366.40" y="61.50" width="3.10" height="6.00" fill="#d8e420"/>
<rect x="413.00" y="69.00" width="6.00" height="3.00" fill="#303034"/>
<rect x="413.00" y="73.00" width="6.00" height="3.00" fill="#303034"/>
<rect x="413.00" y="77.00" width="6.00" height="3.00" fill="#303034"/>
<rect x="413.00" y="81.00" width="6.00" height="3.00" fill="#303034"/>
<rect x="413.00" y="85.00" width="6.00" height="3.00" fill="#303034"/>
<rect x="413.00" y="89.00" width="6.00" height="3.00" fill="#303034"/>
<rect x="413.00" y="93.00" width="6.00" height="3.00" fill="#303034"/>
<rect x="413.00" y="98.00" width="6.00" height="3.00" fill="#303034"/>
<rect x="413.00" y="102.00" width="6.00" height="3.00" fill="#303034"/>
<rect x="413.00" y="106.00" width="6.00" height="3.00" fill="#303034"/>
<rect x="413.00" y="110.00" width="6.00" height="3.00" fill="#303034"/>
<rect x="413.00" y="114.00" width="6.00" height="3.00" fill="#303034"/>
<rect x="413.00" y="118.00" width="6.00" height="3.00" fill="#303034"/>
<rect x="413.00" y="122.00" width="6.00" height="3.00" fill="#303034"/>
<rect x="413.00" y="126.00" width="6.00" height="3.00" fill="#303034"/>
<rect x="413.00" y="130.00" width="6.00" height="3.00" fill="#303034"/>
<rect x="413.00" y="134.00" width="6.00" height="3.00" fill="#303034"/>
<rect x="413.00" y="138.00" width="6.00" height="3.00" fill="#303034"/>
<rect x="413.00" y="142.00" width="6.00" height="3.00" fill="#303034"/>
<rect x="413.00" y="147.00" width="6.00" height="3.00" fill="#303034"/>
<rect x="413.00" y="151.00" width="6.00" height="3.00" fill="#303034"/>
<rect x="413.00" y="155.00" width="6.00" height="3.00" fill="#303034"/>
<rect x="413.00" y="159.00" width="6.00" height="3.00" fill="#303034"/>
<rect x="413.00" y="163.00" width="6.00" height="3.00" fill="#303034"/>
<rect x="413.00" y="167.00" width="6.00" height="3.00" fill="#303034"/>
<rect x="413.00" y="171.00" width="6.00" height="3.00" fill="#303034"/>
<rect x="413.00" y="175.00" width="6.00" height="3.00" fill="#303034"/>
<rect x="413.00" y="179.00" width="6.00" height="3.00" fill="#303034"/>
<rect x="413.00" y="183.00" width="6.00" height="3.00" fill="#303034"/>
<rect x="413.00" y="187.00" width="6.00" height="3.00" fill="#303034"/>
<rect x="413.00" y="191.00" width="6.00" height="3.00" fill="#303034"/>
<rect x="413.00" y="195.00" width="6.00" height="3.00" fill="#303034"/>
<rect x="413.00" y="200.00" width="6.00" height="3.00" fill="#303034"/>
<rect x="413.00" y="204.00" width="6.00" height="3.00" fill="#303034"/>
<rect x="413.00" y="208.00" width="6.00" height="3.00" fill="#303034"/>
<rect x="413.00" y="212.00" width="6.00" height="3.00" fill="#303034"/>
<rect x="413.00" y="216.00" width="6.00" height="3.00" fill="#303034"/>
<rect x="413.00" y="220.00" width="6.00" height="3.00" fill="#303034"/>
<rect x="413.00" y="224.00" width="6.00" height="3.00" fill="#303034"/>
<rect x="413.00" y="228.00" width="6.00" height="3.00" fill="#303034"/>
<rect x="413.00" y="232.00" width="6.00" height="3.00" fill="#303034"/>
<rect x="413.00" y="236.00" width="6.00" height="3.00" fill="#303034"/>
<rect x="413.00" y="240.00" width="6.00" height="3.00" fill="#303034"/>
<rect x="413.00" y="244.00" width="6.00" height="3.00" fill="#303034"/>
<rect x="413.00" y="249.00" width="6.00" height="3.00" fill="#303034"/>
<rect x="413.00" y="253.00" width="6.00" height="3.00" fill="#303034"/>
<rect x="413.00" y="257.00" width="6.00" height="3.00" fill="#303034"/>
<rect x="413.00" y="261.00" width="6.00" height="3.00" fill="#303034"/>
<rect x="413.00" y="265.00" width="6.00" height="3.00" fill="#303034"/>
<rect x="413.00" y="269.00" width="6.00" height="3.00" fill="#303034"/>
<rect x="347.66" y="37.70" width="1.90" height="10.30" fill="#7a7a7e" shape-rendering="auto"/>
<rect x="347.94" y="48.00" width="1.33" height="13.30" fill="#c4c4c8" shape-rendering="auto"/>
<rect x="347.66" y="59.65" width="1.90" height="1.65" fill="#262626" shape-rendering="auto"/>
<rect x="347.66" y="56.65" width="1.90" height="1.65" fill="#262626" shape-rendering="auto"/>
<rect x="347.66" y="53.65" width="1.90" height="1.65" fill="#262626" shape-rendering="auto"/>
<rect x="347.66" y="50.65" width="1.90" height="1.65" fill="#262626" shape-rendering="auto"/>
<rect x="347.66" y="47.65" width="1.90" height="1.65" fill="#262626" shape-rendering="auto"/>
<rect x="347.66" y="44.65" width="1.90" height="1.65" fill="#262626" shape-rendering="auto"/>
<rect x="347.66" y="41.65" width="1.90" height="1.65" fill="#262626" shape-rendering="auto"/>
<rect x="347.66" y="38.65" width="1.90" height="1.65" fill="#262626" shape-rendering="auto"/>
<rect x="350.88" y="39.00" width="1.90" height="9.00" fill="#7a7a7e" shape-rendering="auto"/>
<rect x="351.16" y="48.00" width="1.33" height="13.30" fill="#c4c4c8" shape-rendering="auto"/>
<rect x="350.88" y="59.65" width="1.90" height="1.65" fill="#262626" shape-rendering="auto"/>
<rect x="350.88" y="56.65" width="1.90" height="1.65" fill="#262626" shape-rendering="auto"/>
<rect x="350.88" y="53.65" width="1.90" height="1.65" fill="#262626" shape-rendering="auto"/>
<rect x="350.88" y="50.65" width="1.90" height="1.65" fill="#262626" shape-rendering="auto"/>
<rect x="350.88" y="47.65" width="1.90" height="1.65" fill="#262626" shape-rendering="auto"/>
<rect x="350.88" y="44.65" width="1.90" height="1.65" fill="#262626" shape-rendering="auto"/>
<rect x="350.88" y="41.65" width="1.90" height="1.65" fill="#262626" shape-rendering="auto"/>
<rect x="354.10" y="38.40" width="1.90" height="9.60" fill="#7a7a7e" shape-rendering="auto"/>
<rect x="354.38" y="48.00" width="1.33" height="13.30" fill="#c4c4c8" shape-rendering="auto"/>
<rect x="354.10" y="59.65" width="1.90" height="1.65" fill="#262626" shape-rendering="auto"/>
<rect x="354.10" y="56.65" width="1.90" height="1.65" fill="#262626" shape-rendering="auto"/>
<rect x="354.10" y="53.65" width="1.90" height="1.65" fill="#262626" shape-rendering="auto"/>
<rect x="354.10" y="50.65" width="1.90" height="1.65" fill="#262626" shape-rendering="auto"/>
<rect x="354.10" y="47.65" width="1.90" height="1.65" fill="#262626" shape-rendering="auto"/>
<rect x="354.10" y="44.65" width="1.90" height="1.65" fill="#262626" shape-rendering="auto"/>
<rect x="354.10" y="41.65" width="1.90" height="1.65" fill="#262626" shape-rendering="auto"/>
<rect x="354.10" y="38.65" width="1.90" height="1.65" fill="#262626" shape-rendering="auto"/>
<rect x="357.32" y="39.70" width="1.90" height="8.30" fill="#7a7a7e" shape-rendering="auto"/>
<rect x="357.60" y="48.00" width="1.33" height="13.30" fill="#c4c4c8" shape-rendering="auto"/>
<rect x="357.32" y="59.65" width="1.90" height="1.65" fill="#262626" shape-rendering="auto"/>
<rect x="357.32" y="56.65" width="1.90" height="1.65" fill="#262626" shape-rendering="auto"/>
<rect x="357.32" y="53.65" width="1.90" height="1.65" fill="#262626" shape-rendering="auto"/>
<rect x="357.32" y="50.65" width="1.90" height="1.65" fill="#262626" shape-rendering="auto"/>
<rect x="357.32" y="47.65" width="1.90" height="1.65" fill="#262626" shape-rendering="auto"/>
<rect x="357.32" y="44.65" width="1.90" height="1.65" fill="#262626" shape-rendering="auto"/>
<rect x="357.32" y="41.65" width="1.90" height="1.65" fill="#262626" shape-rendering="auto"/>
<rect x="360.54" y="39.70" width="1.90" height="8.30" fill="#7a7a7e" shape-rendering="auto"/>
<rect x="360.82" y="48.00" width="1.33" height="13.30" fill="#c4c4c8" shape-rendering="auto"/>
<rect x="360.54" y="59.65" width="1.90" height="1.65" fill="#262626" shape-rendering="auto"/>
<rect x="360.54" y="56.65" width="1.90" height="1.65" fill="#262626" shape-rendering="auto"/>
<rect x="360.54" y="53.65" width="1.90" height="1.65" fill="#262626" shape-rendering="auto"/>
<rect x="360.54" y="50.65" width="1.90" height="1.65" fill="#262626" shape-rendering="auto"/>
<rect x="360.54" y="47.65" width="1.90" height="1.65" fill="#262626" shape-rendering="auto"/>
<rect x="360.54" y="44.65" width="1.90" height="1.65" fill="#262626" shape-rendering="auto"/>
<rect x="360.54" y="41.65" width="1.90" height="1.65" fill="#262626" shape-rendering="auto"/>
<rect x="363.76" y="35.00" width="1.90" height="13.00" fill="#7a7a7e" shape-rendering="auto"/>
<rect x="364.04" y="48.00" width="1.33" height="13.30" fill="#c4c4c8" shape-rendering="auto"/>
<rect x="363.76" y="59.65" width="1.90" height="1.65" fill="#262626" shape-rendering="auto"/>
<rect x="363.76" y="56.65" width="1.90" height="1.65" fill="#262626" shape-rendering="auto"/>
<rect x="363.76" y="53.65" width="1.90" height="1.65" fill="#262626" shape-rendering="auto"/>
<rect x="363.76" y="50.65" width="1.90" height="1.65" fill="#262626" shape-rendering="auto"/>
<rect x="363.76" y="47.65" width="1.90" height="1.65" fill="#262626" shape-rendering="auto"/>
<rect x="363.76" y="44.65" width="1.90" height="1.65" fill="#262626" shape-rendering="auto"/>
<rect x="363.76" y="41.65" width="1.90" height="1.65" fill="#262626" shape-rendering="auto"/>
<rect x="363.76" y="38.65" width="1.90" height="1.65" fill="#262626" shape-rendering="auto"/>
<rect x="363.76" y="35.65" width="1.90" height="1.65" fill="#262626" shape-rendering="auto"/>
<rect x="366.98" y="39.70" width="1.90" height="8.30" fill="#7a7a7e" shape-rendering="auto"/>
<rect x="367.26" y="48.00" width="1.33" height="13.30" fill="#c4c4c8" shape-rendering="auto"/>
<rect x="366.98" y="59.65" width="1.90" height="1.65" fill="#262626" shape-rendering="auto"/>
<rect x="366.98" y="56.65" width="1.90" height="1.65" fill="#262626" shape-rendering="auto"/>
<rect x="366.98" y="53.65" width="1.90" height="1.65" fill="#262626" shape-rendering="auto"/>
<rect x="366.98" y="50.65" width="1.90" height="1.65" fill="#262626" shape-rendering="auto"/>
<rect x="366.98" y="47.65" width="1.90" height="1.65" fill="#262626" shape-rendering="auto"/>
<rect x="366.98" y="44.65" width="1.90" height="1.65" fill="#262626" shape-rendering="auto"/>
<rect x="366.98" y="41.65" width="1.90" height="1.65" fill="#262626" shape-rendering="auto"/>
<rect x="370.20" y="31.00" width="1.90" height="17.00" fill="#7a7a7e" shape-rendering="auto"/>
<rect x="370.48" y="48.00" width="1.33" height="13.30" fill="#c4c4c8" shape-rendering="auto"/>
<rect x="370.20" y="59.65" width="1.90" height="1.65" fill="#262626" shape-rendering="auto"/>
<rect x="370.20" y="56.65" width="1.90" height="1.65" fill="#262626" shape-rendering="auto"/>
<rect x="370.20" y="53.65" width="1.90" height="1.65" fill="#262626" shape-rendering="auto"/>
<rect x="370.20" y="50.65" width="1.90" height="1.65" fill="#262626" shape-rendering="auto"/>
<rect x="370.20" y="47.65" width="1.90" height="1.65" fill="#262626" shape-rendering="auto"/>
<rect x="370.20" y="44.65" width="1.90" height="1.65" fill="#262626" shape-rendering="auto"/>
<rect x="370.20" y="41.65" width="1.90" height="1.65" fill="#262626" shape-rendering="auto"/>
<rect x="370.20" y="38.65" width="1.90" height="1.65" fill="#262626" shape-rendering="auto"/>
<rect x="370.20" y="35.65" width="1.90" height="1.65" fill="#262626" shape-rendering="auto"/>
<rect x="370.20" y="32.65" width="1.90" height="1.65" fill="#262626" shape-rendering="auto"/>
<rect x="373.42" y="31.00" width="1.90" height="17.00" fill="#7a7a7e" shape-rendering="auto"/>
<rect x="373.70" y="48.00" width="1.33" height="13.30" fill="#c4c4c8" shape-rendering="auto"/>
<rect x="373.42" y="59.65" width="1.90" height="1.65" fill="#262626" shape-rendering="auto"/>
<rect x="373.42" y="56.65" width="1.90" height="1.65" fill="#262626" shape-rendering="auto"/>
<rect x="373.42" y="53.65" width="1.90" height="1.65" fill="#262626" shape-rendering="auto"/>
<rect x="373.42" y="50.65" width="1.90" height="1.65" fill="#262626" shape-rendering="auto"/>
<rect x="373.42" y="47.65" width="1.90" height="1.65" fill="#262626" shape-rendering="auto"/>
<rect x="373.42" y="44.65" width="1.90" height="1.65" fill="#262626" shape-rendering="auto"/>
<rect x="373.42" y="41.65" width="1.90" height="1.65" fill="#262626" shape-rendering="auto"/>
<rect x="373.42" y="38.65" width="1.90" height="1.65" fill="#262626" shape-rendering="auto"/>
<rect x="373.42" y="35.65" width="1.90" height="1.65" fill="#262626" shape-rendering="auto"/>
<rect x="373.42" y="32.65" width="1.90" height="1.65" fill="#262626" shape-rendering="auto"/>
<rect x="376.64" y="37.30" width="1.90" height="10.70" fill="#7a7a7e" shape-rendering="auto"/>
<rect x="376.93" y="48.00" width="1.33" height="13.30" fill="#c4c4c8" shape-rendering="auto"/>
<rect x="376.64" y="59.65" width="1.90" height="1.65" fill="#262626" shape-rendering="auto"/>
<rect x="376.64" y="56.65" width="1.90" height="1.65" fill="#262626" shape-rendering="auto"/>
<rect x="376.64" y="53.65" width="1.90" height="1.65" fill="#262626" shape-rendering="auto"/>
<rect x="376.64" y="50.65" width="1.90" height="1.65" fill="#262626" shape-rendering="auto"/>
<rect x="376.64" y="47.65" width="1.90" height="1.65" fill="#262626" shape-rendering="auto"/>
<rect x="376.64" y="44.65" width="1.90" height="1.65" fill="#262626" shape-rendering="auto"/>
<rect x="376.64" y="41.65" width="1.90" height="1.65" fill="#262626" shape-rendering="auto"/>
<rect x="376.64" y="38.65" width="1.90" height="1.65" fill="#262626" shape-rendering="auto"/>
<rect x="379.86" y="40.40" width="1.90" height="7.60" fill="#7a7a7e" shape-rendering="auto"/>
<rect x="380.14" y="48.00" width="1.33" height="13.30" fill="#c4c4c8" shape-rendering="auto"/>
<rect x="379.86" y="59.65" width="1.90" height="1.65" fill="#262626" shape-rendering="auto"/>
<rect x="379.86" y="56.65" width="1.90" height="1.65" fill="#262626" shape-rendering="auto"/>
<rect x="379.86" y="53.65" width="1.90" height="1.65" fill="#262626" shape-rendering="auto"/>
<rect x="379.86" y="50.65" width="1.90" height="1.65" fill="#262626" shape-rendering="auto"/>
<rect x="379.86" y="47.65" width="1.90" height="1.65" fill="#262626" shape-rendering="auto"/>
<rect x="379.86" y="44.65" width="1.90" height="1.65" fill="#262626" shape-rendering="auto"/>
<rect x="379.86" y="41.65" width="1.90" height="1.65" fill="#262626" shape-rendering="auto"/>
<rect x="383.08" y="40.40" width="1.90" height="7.60" fill="#7a7a7e" shape-rendering="auto"/>
<rect x="383.36" y="48.00" width="1.33" height="13.30" fill="#c4c4c8" shape-rendering="auto"/>
<rect x="383.08" y="59.65" width="1.90" height="1.65" fill="#262626" shape-rendering="auto"/>
<rect x="383.08" y="56.65" width="1.90" height="1.65" fill="#262626" shape-rendering="auto"/>
<rect x="383.08" y="53.65" width="1.90" height="1.65" fill="#262626" shape-rendering="auto"/>
<rect x="383.08" y="50.65" width="1.90" height="1.65" fill="#262626" shape-rendering="auto"/>
<rect x="383.08" y="47.65" width="1.90" height="1.65" fill="#262626" shape-rendering="auto"/>
<rect x="383.08" y="44.65" width="1.90" height="1.65" fill="#262626" shape-rendering="auto"/>
<rect x="383.08" y="41.65" width="1.90" height="1.65" fill="#262626" shape-rendering="auto"/>
<rect x="386.30" y="40.40" width="1.90" height="7.60" fill="#7a7a7e" shape-rendering="auto"/>
<rect x="386.58" y="48.00" width="1.33" height="13.30" fill="#c4c4c8" shape-rendering="auto"/>
<rect x="386.30" y="59.65" width="1.90" height="1.65" fill="#262626" shape-rendering="auto"/>
<rect x="386.30" y="56.65" width="1.90" height="1.65" fill="#262626" shape-rendering="auto"/>
<rect x="386.30" y="53.65" width="1.90" height="1.65" fill="#262626" shape-rendering="auto"/>
<rect x="386.30" y="50.65" width="1.90" height="1.65" fill="#262626" shape-rendering="auto"/>
<rect x="386.30" y="47.65" width="1.90" height="1.65" fill="#262626" shape-rendering="auto"/>
<rect x="386.30" y="44.65" width="1.90" height="1.65" fill="#262626" shape-rendering="auto"/>
<rect x="386.30" y="41.65" width="1.90" height="1.65" fill="#262626" shape-rendering="auto"/>
<rect x="389.52" y="41.70" width="1.90" height="6.30" fill="#7a7a7e" shape-rendering="auto"/>
<rect x="389.81" y="48.00" width="1.33" height="13.30" fill="#c4c4c8" shape-rendering="auto"/>
<rect x="389.52" y="59.65" width="1.90" height="1.65" fill="#262626" shape-rendering="auto"/>
<rect x="389.52" y="56.65" width="1.90" height="1.65" fill="#262626" shape-rendering="auto"/>
<rect x="389.52" y="53.65" width="1.90" height="1.65" fill="#262626" shape-rendering="auto"/>
<rect x="389.52" y="50.65" width="1.90" height="1.65" fill="#262626" shape-rendering="auto"/>
<rect x="389.52" y="47.65" width="1.90" height="1.65" fill="#262626" shape-rendering="auto"/>
<rect x="389.52" y="44.65" width="1.90" height="1.65" fill="#262626" shape-rendering="auto"/>
<rect x="389.52" y="41.65" width="1.90" height="1.65" fill="#262626" shape-rendering="auto"/>
<rect x="392.74" y="39.00" width="1.90" height="9.00" fill="#7a7a7e" shape-rendering="auto"/>
<rect x="393.02" y="48.00" width="1.33" height="13.30" fill="#c4c4c8" shape-rendering="auto"/>
<rect x="392.74" y="59.65" width="1.90" height="1.65" fill="#262626" shape-rendering="auto"/>
<rect x="392.74" y="56.65" width="1.90" height="1.65" fill="#262626" shape-rendering="auto"/>
<rect x="392.74" y="53.65" width="1.90" height="1.65" fill="#262626" shape-rendering="auto"/>
<rect x="392.74" y="50.65" width="1.90" height="1.65" fill="#262626" shape-rendering="auto"/>
<rect x="392.74" y="47.65" width="1.90" height="1.65" fill="#262626" shape-rendering="auto"/>
<rect x="392.74" y="44.65" width="1.90" height="1.65" fill="#262626" shape-rendering="auto"/>
<rect x="392.74" y="41.65" width="1.90" height="1.65" fill="#262626" shape-rendering="auto"/>
<rect x="395.96" y="25.60" width="1.90" height="22.40" fill="#7a7a7e" shape-rendering="auto"/>
<rect x="396.25" y="48.00" width="1.33" height="13.30" fill="#c4c4c8" shape-rendering="auto"/>
<rect x="395.96" y="59.65" width="1.90" height="1.65" fill="#262626" shape-rendering="auto"/>
<rect x="395.96" y="56.65" width="1.90" height="1.65" fill="#262626" shape-rendering="auto"/>
<rect x="395.96" y="53.65" width="1.90" height="1.65" fill="#262626" shape-rendering="auto"/>
<rect x="395.96" y="50.65" width="1.90" height="1.65" fill="#262626" shape-rendering="auto"/>
<rect x="395.96" y="47.65" width="1.90" height="1.65" fill="#262626" shape-rendering="auto"/>
<rect x="395.96" y="44.65" width="1.90" height="1.65" fill="#262626" shape-rendering="auto"/>
<rect x="395.96" y="41.65" width="1.90" height="1.65" fill="#262626" shape-rendering="auto"/>
<rect x="395.96" y="38.65" width="1.90" height="1.65" fill="#262626" shape-rendering="auto"/>
<rect x="395.96" y="35.65" width="1.90" height="1.65" fill="#262626" shape-rendering="auto"/>
<rect x="395.96" y="32.65" width="1.90" height="1.65" fill="#262626" shape-rendering="auto"/>
<rect x="395.96" y="29.65" width="1.90" height="1.65" fill="#262626" shape-rendering="auto"/>
<rect x="395.96" y="26.65" width="1.90" height="1.65" fill="#262626" shape-rendering="auto"/>
<rect x="399.18" y="29.00" width="1.90" height="19.00" fill="#7a7a7e" shape-rendering="auto"/>
<rect x="399.46" y="48.00" width="1.33" height="13.30" fill="#c4c4c8" shape-rendering="auto"/>
<rect x="399.18" y="59.65" width="1.90" height="1.65" fill="#262626" shape-rendering="auto"/>
<rect x="399.18" y="56.65" width="1.90" height="1.65" fill="#262626" shape-rendering="auto"/>
<rect x="399.18" y="53.65" width="1.90" height="1.65" fill="#262626" shape-rendering="auto"/>
<rect x="399.18" y="50.65" width="1.90" height="1.65" fill="#262626" shape-rendering="auto"/>
<rect x="399.18" y="47.65" width="1.90" height="1.65" fill="#262626" shape-rendering="auto"/>
<rect x="399.18" y="44.65" width="1.90" height="1.65" fill="#262626" shape-rendering="auto"/>
<rect x="399.18" y="41.65" width="1.90" height="1.65" fill="#262626" shape-rendering="auto"/>
<rect x="399.18" y="38.65" width="1.90" height="1.65" fill="#262626" shape-rendering="auto"/>
<rect x="399.18" y="35.65" width="1.90" height="1.65" fill="#262626" shape-rendering="auto"/>
<rect x="399.18" y="32.65" width="1.90" height="1.65" fill="#262626" shape-rendering="auto"/>
<rect x="399.18" y="29.65" width="1.90" height="1.65" fill="#262626" shape-rendering="auto"/>
<rect x="402.40" y="35.00" width="1.90" height="13.00" fill="#7a7a7e" shape-rendering="auto"/>
<rect x="402.69" y="48.00" width="1.33" height="13.30" fill="#c4c4c8" shape-rendering="auto"/>
<rect x="402.40" y="59.65" width="1.90" height="1.65" fill="#262626" shape-rendering="auto"/>
<rect x="402.40" y="56.65" width="1.90" height="1.65" fill="#262626" shape-rendering="auto"/>
<rect x="402.40" y="53.65" width="1.90" height="1.65" fill="#262626" shape-rendering="auto"/>
<rect x="402.40" y="50.65" width="1.90" height="1.65" fill="#262626" shape-rendering="auto"/>
<rect x="402.40" y="47.65" width="1.90" height="1.65" fill="#262626" shape-rendering="auto"/>
<rect x="402.40" y="44.65" width="1.90" height="1.65" fill="#262626" shape-rendering="auto"/>
<rect x="402.40" y="41.65" width="1.90" height="1.65" fill="#262626" shape-rendering="auto"/>
<rect x="402.40" y="38.65" width="1.90" height="1.65" fill="#262626" shape-rendering="auto"/>
<rect x="402.40" y="35.65" width="1.90" height="1.65" fill="#262626" shape-rendering="auto"/>
<rect x="405.62" y="35.00" width="1.90" height="13.00" fill="#7a7a7e" shape-rendering="auto"/>
<rect x="405.90" y="48.00" width="1.33" height="13.30" fill="#c4c4c8" shape-rendering="auto"/>
<rect x="405.62" y="59.65" width="1.90" height="1.65" fill="#262626" shape-rendering="auto"/>
<rect x="405.62" y="56.65" width="1.90" height="1.65" fill="#262626" shape-rendering="auto"/>
<rect x="405.62" y="53.65" width="1.90" height="1.65" fill="#262626" shape-rendering="auto"/>
<rect x="405.62" y="50.65" width="1.90" height="1.65" fill="#262626" shape-rendering="auto"/>
<rect x="405.62" y="47.65" width="1.90" height="1.65" fill="#262626" shape-rendering="auto"/>
<rect x="405.62" y="44.65" width="1.90" height="1.65" fill="#262626" shape-rendering="auto"/>
<rect x="405.62" y="41.65" width="1.90" height="1.65" fill="#262626" shape-rendering="auto"/>
<rect x="405.62" y="38.65" width="1.90" height="1.65" fill="#262626" shape-rendering="auto"/>
<rect x="405.62" y="35.65" width="1.90" height="1.65" fill="#262626" shape-rendering="auto"/>
<rect x="408.84" y="35.00" width="1.90" height="13.00" fill="#7a7a7e" shape-rendering="auto"/>
<rect x="409.12" y="48.00" width="1.33" height="13.30" fill="#c4c4c8" shape-rendering="auto"/>
<rect x="408.84" y="59.65" width="1.90" height="1.65" fill="#262626" shape-rendering="auto"/>
<rect x="408.84" y="56.65" width="1.90" height="1.65" fill="#262626" shape-rendering="auto"/>
<rect x="408.84" y="53.65" width="1.90" height="1.65" fill="#262626" shape-rendering="auto"/>
<rect x="408.84" y="50.65" width="1.90" height="1.65" fill="#262626" shape-rendering="auto"/>
<rect x="408.84" y="47.65" width="1.90" height="1.65" fill="#262626" shape-rendering="auto"/>
<rect x="408.84" y="44.65" width="1.90" height="1.65" fill="#262626" shape-rendering="auto"/>
<rect x="408.84" y="41.65" width="1.90" height="1.65" fill="#262626" shape-rendering="auto"/>
<rect x="408.84" y="38.65" width="1.90" height="1.65" fill="#262626" shape-rendering="auto"/>
<rect x="408.84" y="35.65" width="1.90" height="1.65" fill="#262626" shape-rendering="auto"/>
<g shape-rendering="auto">
<rect x="185.6" y="51.2" width="4.9" height="67.3" fill="#20d878"/><rect x="185.9" y="128" width="5.0" height="55.5" fill="#a2a5b4"/><rect x="186.3" y="220.3" width="4.8" height="32.0" fill="#050505"/><rect x="186.8" y="272.2" width="4.95" height="47.5" fill="#1f40e4"/><rect x="186.7" y="324.7" width="4.9" height="39.400000000000034" fill="#dcdeee"/><rect x="186.3" y="372" width="4.9" height="40.30000000000001" fill="#9597a7"/><rect x="185.8" y="422.6" width="5.1" height="26.599999999999966" fill="#aac3eb"/><rect x="187.2" y="455.9" width="4.8" height="46.60000000000002" fill="#ee1634"/><rect x="424.1" y="74.5" width="4.5" height="71.80000000000001" fill="#050505"/><rect x="424.3" y="152" width="4.5" height="40.30000000000001" fill="#1f40e4"/><rect x="424.6" y="204.1" width="4.5" height="23.200000000000017" fill="#a2a5b4"/><rect x="424.6" y="233.4" width="4.4" height="29.200000000000017" fill="#dcdeee"/>
<text transform="translate(199.7 73.5) scale(1 1.06)" fill="#24aa68" stroke="#24aa68" stroke-width="0.3" font-size="13.6">CD34<tspan font-size="8" dy="-4.5">hi</tspan><tspan dy="4.5">,</tspan></text><text transform="translate(199.7 89.8) scale(1 1.06)" fill="#24aa68" stroke="#24aa68" stroke-width="0.3" font-size="13.6">CD38</text><text transform="translate(199.7 106.5) scale(1 1.06)" fill="#24aa68" stroke="#24aa68" stroke-width="0.3" font-size="13.6">DR</text><text transform="translate(201.3 151.8) scale(1 1.06)" fill="#999aa2" stroke="#999aa2" stroke-width="0.3" font-size="13.6">CD36<tspan font-size="8" dy="-4.5">lo</tspan><tspan dy="4.5">,</tspan></text><text transform="translate(201.3 168) scale(1 1.06)" fill="#999aa2" stroke="#999aa2" stroke-width="0.3" font-size="13.6">CD38</text><text transform="translate(199.7 231.5) scale(1 1.06)" fill="#080808" stroke="#080808" stroke-width="0.3" font-size="13.6">CD34<tspan font-size="8" dy="-4.5">lo</tspan><tspan dy="4.5"></tspan></text><text transform="translate(199.7 247.7) scale(1 1.06)" fill="#080808" stroke="#080808" stroke-width="0.3" font-size="13.6">CD38, DR</text><text transform="translate(202.2 298.9) scale(1 1.06)" fill="#1c2088" stroke="#1c2088" stroke-width="0.3" font-size="13.6">CD38</text><text transform="translate(202.2 350) scale(1 1.06)" fill="#d8dae6" stroke="#d8dae6" stroke-width="0.3" font-size="13.6">CD16</text><text transform="translate(203.8 388.8) scale(1 1.06)" fill="#999aa2" stroke="#999aa2" stroke-width="0.3" font-size="13.6">CD36<tspan font-size="8" dy="-4.5">lo</tspan><tspan dy="4.5"></tspan></text><text transform="translate(203.8 404.7) scale(1 1.06)" fill="#999aa2" stroke="#999aa2" stroke-width="0.3" font-size="13.6">CD71</text><text transform="translate(202 442) scale(1 1.06)" fill="#adc2e2" stroke="#adc2e2" stroke-width="0.3" font-size="13.6">CD38 DR</text><text transform="translate(201.3 473.3) scale(1 1.06)" fill="#d8163a" stroke="#d8163a" stroke-width="0.3" font-size="13.6">CD36<tspan font-size="8" dy="-4.5">hi</tspan><tspan dy="4.5">,</tspan></text><text transform="translate(201.3 489.5) scale(1 1.06)" fill="#d8163a" stroke="#d8163a" stroke-width="0.3" font-size="13.6">CD71</text><text transform="translate(434.3 101.5) scale(1 1.06)" fill="#080808" stroke="#080808" stroke-width="0.3" font-size="13.6">CD38</text><text transform="translate(434.3 117.9) scale(1 1.06)" fill="#080808" stroke="#080808" stroke-width="0.3" font-size="13.6">DR</text><text transform="translate(434.3 134.1) scale(1 1.06)" fill="#080808" stroke="#080808" stroke-width="0.3" font-size="13.6">CD34<tspan font-size="8" dy="-4.5">lo</tspan><tspan dy="4.5"></tspan></text><text transform="translate(434.2 184.6) scale(1 1.06)" fill="#1c2088" stroke="#1c2088" stroke-width="0.3" font-size="13.6">CD38</text><text transform="translate(434.2 213.6) scale(1 1.06)" fill="#999aa2" stroke="#999aa2" stroke-width="0.3" font-size="13.6">CD36<tspan font-size="8" dy="-4.5">lo</tspan><tspan dy="4.5">, CD38,</tspan></text><text transform="translate(434.2 228.9) scale(1 1.06)" fill="#999aa2" stroke="#999aa2" stroke-width="0.3" font-size="13.6">CD71</text><text transform="translate(435.2 255.2) scale(1 1.06)" fill="#d8dae6" stroke="#d8dae6" stroke-width="0.3" font-size="13.6">CD16</text>

<rect x="336.75" y="304" width="116" height="70.5" fill="#fff" stroke="#404040" stroke-width="1"/>
<rect x="344.25" y="314" width="10.5" height="10" fill="#f0f000" stroke="#303030" stroke-width="1"/>
<rect x="345.5" y="333.5" width="10.5" height="11" fill="#050505"/>
<rect x="346" y="354" width="10" height="9.5" fill="#d2d8ea" stroke="#404040" stroke-width="1"/>
<text x="363.7" y="325.1" font-size="19.3" fill="#080808" stroke="#080808" stroke-width="0.25">positive</text>
<text x="365.3" y="346.1" font-size="19.3" fill="#080808" stroke="#080808" stroke-width="0.25">negative</text>
<text x="367.5" y="364.1" font-size="19.3" fill="#080808" stroke="#080808" stroke-width="0.25">missing</text>


<text x="2" y="9.2" class="pl" font-size="11" fill="#000">A</text>
<text x="270.4" y="10.3" class="pl" font-size="11.5" fill="#000">B</text>

</g>
</svg>
</body></html>
